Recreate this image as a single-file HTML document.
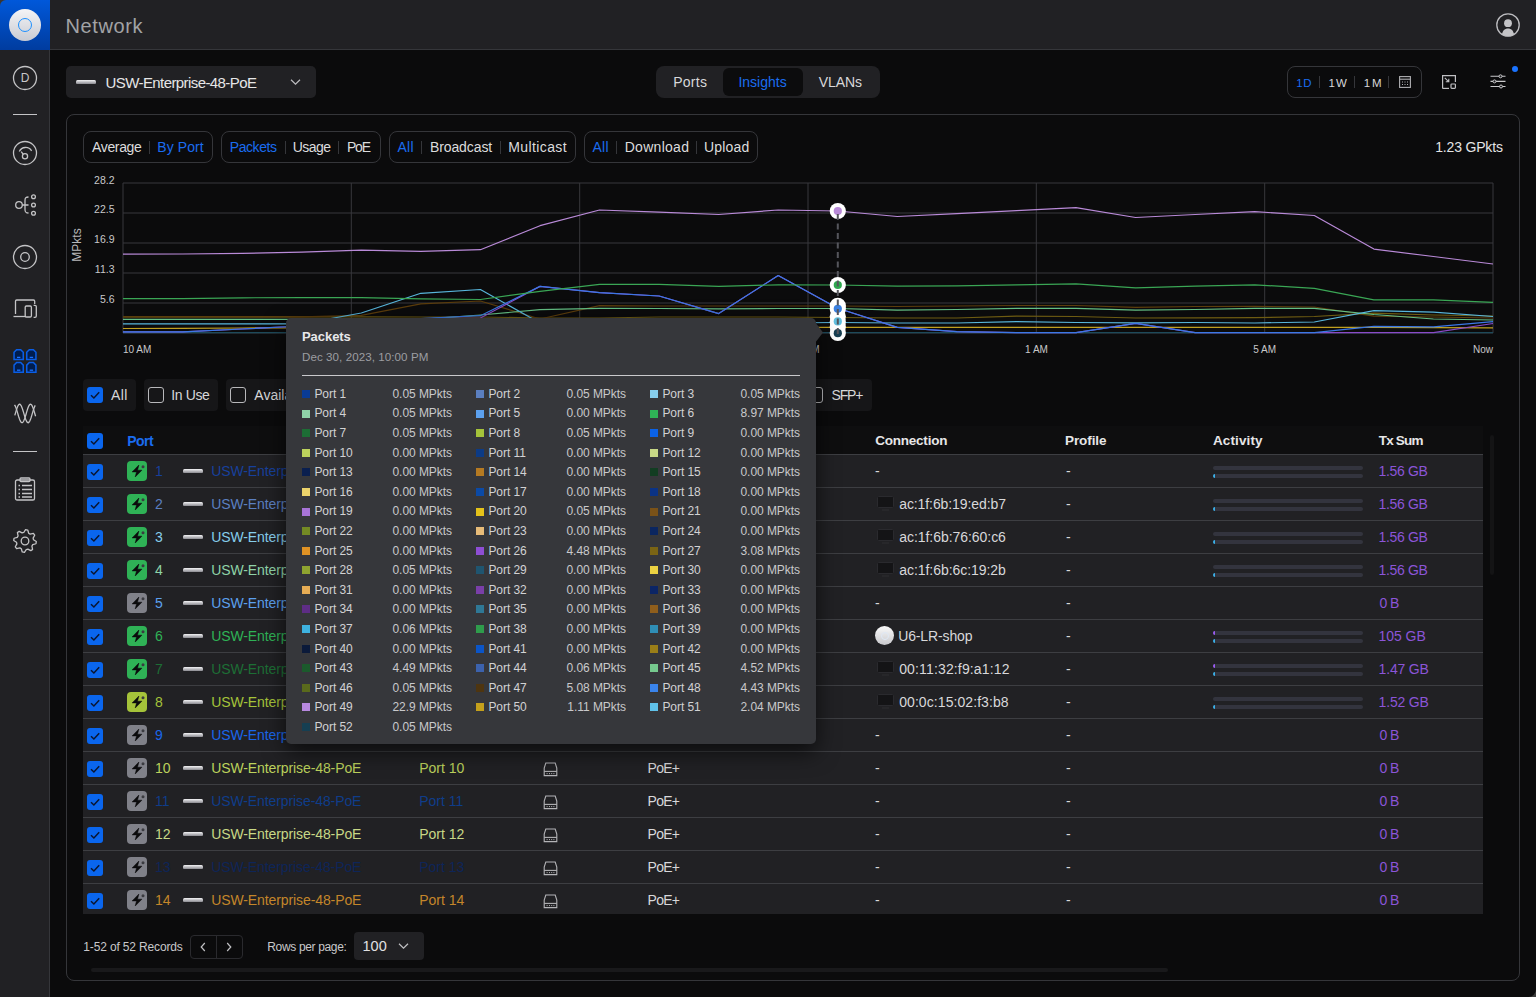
<!DOCTYPE html><html><head><meta charset="utf-8"><style>
html,body{margin:0;padding:0;}
body{width:1536px;height:997px;overflow:hidden;position:relative;background:#0b0b0c;font-family:"Liberation Sans", sans-serif;}
.t{position:absolute;white-space:nowrap;}
svg{overflow:visible}
</style></head><body>
<div style="position:absolute;left:0px;top:0px;width:1536px;height:49px;background:#212124;"></div>
<div style="position:absolute;left:0px;top:49px;width:1536px;height:1px;background:#35363a;"></div>
<div style="position:absolute;left:0px;top:50px;width:49px;height:947px;background:#212124;"></div>
<div style="position:absolute;left:49px;top:0px;width:1px;height:997px;background:#35363a;"></div>
<div style="position:absolute;left:0px;top:0px;width:8px;height:8px;background:#3a3631;"></div>
<div style="position:absolute;left:0px;top:0px;width:50px;height:50px;background:linear-gradient(180deg,#0058da 0%,#003c9f 100%);border-top-left-radius:6px;"></div>
<div style="position:absolute;left:9px;top:9px;width:32px;height:32px;border-radius:50%;background:linear-gradient(180deg,#f4f4f6,#c9cbd3);"></div>
<div style="position:absolute;left:18px;top:18px;width:14px;height:14px;border-radius:50%;box-sizing:border-box;border:1.6px solid #1e90ff;"></div>
<div class="t" style="left:65.50px;top:16.07px;font-size:20px;line-height:20px;color:#a2a3a6;letter-spacing:0.608px;">Network</div>
<svg style="position:absolute;left:1496px;top:13px;" width="24" height="24" viewBox="0 0 24 24"><circle cx="12" cy="12" r="11.2" fill="none" stroke="#bdbdc0" stroke-width="1.3"/><circle cx="12" cy="10.2" r="3.9" fill="#c4c4c7"/><path d="M6 21.3 C6.5 17.5 9 15.4 12 15.4 C15 15.4 17.5 17.5 18 21.3 C16.5 22.6 14.3 23.3 12 23.3 C9.7 23.3 7.5 22.6 6 21.3 Z" fill="#c4c4c7"/></svg>
<svg style="position:absolute;left:13px;top:66px;" width="24" height="24" viewBox="0 0 24 24"><circle cx="12" cy="12" r="11.5" stroke-width="1.3" fill="none" stroke="#c4c4c6"/></svg>
<div class="t" style="left:-275px;width:600px;text-align:center;top:72.14px;font-size:12px;line-height:12px;color:#c8c8ca;">D</div>
<div style="position:absolute;left:13px;top:114px;width:24px;height:1px;background:#c4c4c6;"></div>
<svg style="position:absolute;left:13px;top:141px;" width="24" height="24" viewBox="0 0 24 24"><circle cx="12" cy="12" r="11.5" stroke-width="1.3" fill="none" stroke="#c4c4c6"/><path d="M6.3 10.5 A7 7 0 0 1 18.6 9.8" stroke-width="1.3" fill="none" stroke="#c4c4c6"/><circle cx="12" cy="15.3" r="2.6" stroke-width="1.3" fill="none" stroke="#c4c4c6"/><path d="M10.3 13.4 L8.2 10.6" stroke-width="1.3" fill="none" stroke="#c4c4c6"/></svg>
<svg style="position:absolute;left:13px;top:193px;" width="24" height="24" viewBox="0 0 24 24"><circle cx="6" cy="12" r="3.3" stroke-width="1.3" fill="none" stroke="#c4c4c6"/><path d="M9.3 12 H15.5 M15.5 4 C12.5 4 12 5 12 7.5 V16.5 C12 19 12.5 20 15.5 20" stroke-width="1.3" fill="none" stroke="#c4c4c6"/><circle cx="20.5" cy="3.8" r="1.9" stroke-width="1.3" fill="none" stroke="#c4c4c6"/><circle cx="20.5" cy="12" r="1.9" stroke-width="1.3" fill="none" stroke="#c4c4c6"/><circle cx="20.5" cy="20.2" r="1.9" stroke-width="1.3" fill="none" stroke="#c4c4c6"/></svg>
<svg style="position:absolute;left:13px;top:245px;" width="24" height="24" viewBox="0 0 24 24"><circle cx="12" cy="12" r="11.5" stroke-width="1.3" fill="none" stroke="#c4c4c6"/><circle cx="12" cy="12" r="4.3" stroke-width="1.3" fill="none" stroke="#c4c4c6"/></svg>
<svg style="position:absolute;left:13px;top:297px;" width="24" height="24" viewBox="0 0 24 24"><path d="M2.5 17 V4.2 Q2.5 3 3.7 3 H20.5 Q21.7 3 21.7 4.2 V7" stroke-width="1.3" fill="none" stroke="#c4c4c6"/><path d="M0.5 19.5 H13" stroke-width="1.3" fill="none" stroke="#c4c4c6"/><rect x="12.2" y="9" width="6.2" height="11" rx="1.2" stroke-width="1.3" fill="none" stroke="#c4c4c6"/><path d="M20.6 8.3 H22 Q23.3 8.3 23.3 9.6 V19 Q23.3 20.3 22 20.3 H20.6" stroke-width="1.3" fill="none" stroke="#c4c4c6"/></svg>
<svg style="position:absolute;left:13px;top:349px;" width="24" height="24" viewBox="0 0 24 24"><path d="M1.05 3.3 L3.5999999999999996 0.75 H7.7 L10.25 3.3 V10.55 H1.05 Z" fill="#001d4f" stroke="#0a5ee6" stroke-width="1.5" stroke-linejoin="miter"/><path d="M4.0 8.4 H7.3999999999999995" stroke="#1a72ff" stroke-width="1.3"/><path d="M13.75 3.3 L16.3 0.75 H20.4 L22.95 3.3 V10.55 H13.75 Z" fill="#001d4f" stroke="#0a5ee6" stroke-width="1.5" stroke-linejoin="miter"/><path d="M16.7 8.4 H20.1" stroke="#1a72ff" stroke-width="1.3"/><path d="M1.05 16.1 L3.5999999999999996 13.55 H7.7 L10.25 16.1 V23.35 H1.05 Z" fill="#001d4f" stroke="#0a5ee6" stroke-width="1.5" stroke-linejoin="miter"/><path d="M4.0 21.200000000000003 H7.3999999999999995" stroke="#1a72ff" stroke-width="1.3"/><path d="M13.75 16.1 L16.3 13.55 H20.4 L22.95 16.1 V23.35 H13.75 Z" fill="#001d4f" stroke="#0a5ee6" stroke-width="1.5" stroke-linejoin="miter"/><path d="M16.7 21.200000000000003 H20.1" stroke="#1a72ff" stroke-width="1.3"/></svg>
<svg style="position:absolute;left:13px;top:401px;" width="24" height="24" viewBox="0 0 24 24"><path d="M1.50 3.82 L2.03 4.64 L2.56 5.74 L3.08 7.10 L3.61 8.67 L4.14 10.37 L4.67 12.16 L5.19 13.96 L5.72 15.70 L6.25 17.31 L6.78 18.74 L7.30 19.94 L7.83 20.85 L8.36 21.44 L8.89 21.69 L9.41 21.59 L9.94 21.15 L10.47 20.37 L11.00 19.30 L11.52 17.96 L12.05 16.42 L12.58 14.73 L13.11 12.95 L13.63 11.15 L14.16 9.40 L14.69 7.76 L15.21 6.31 L15.74 5.08 L16.27 4.14 L16.80 3.51 L17.32 3.22 L17.85 3.28 L18.38 3.68 L18.91 4.42 L19.44 5.47 L19.96 6.77 L20.49 8.30 L21.02 9.98 L21.55 11.75 L22.07 13.55 L22.60 15.31" stroke-width="1.3" fill="none" stroke="#c4c4c6"/><path d="M1.80 14.32 L2.31 12.59 L2.82 10.85 L3.33 9.17 L3.84 7.61 L4.35 6.22 L4.86 5.05 L5.37 4.14 L5.88 3.53 L6.39 3.23 L6.90 3.26 L7.41 3.61 L7.92 4.28 L8.43 5.24 L8.94 6.45 L9.45 7.87 L9.96 9.46 L10.47 11.16 L10.98 12.89 L11.49 14.62 L12.00 16.26 L12.51 17.78 L13.02 19.10 L13.53 20.19 L14.04 21.00 L14.55 21.51 L15.06 21.70 L15.57 21.56 L16.08 21.10 L16.59 20.33 L17.10 19.29 L17.61 18.00 L18.12 16.51 L18.63 14.88 L19.14 13.17 L19.65 11.43 L20.16 9.72 L20.67 8.11 L21.18 6.66 L21.69 5.41 L22.20 4.41" stroke-width="1.3" fill="none" stroke="#c4c4c6"/></svg>
<div style="position:absolute;left:13px;top:451px;width:24px;height:1px;background:#c4c4c6;"></div>
<svg style="position:absolute;left:13px;top:477px;" width="24" height="24" viewBox="0 0 24 24"><rect x="2.5" y="3" width="19" height="20" rx="1.6" stroke-width="1.3" fill="none" stroke="#c4c4c6"/><rect x="7" y="1" width="10" height="3.6" rx="1" stroke-width="1.3" fill="none" stroke="#c4c4c6"/><path d="M5.5 8.5 H7 M9 8.5 H19 M5.5 12.5 H7 M9 12.5 H19 M5.5 16.5 H7 M9 16.5 H19 M5.5 20 H7 M9 20 H19" stroke="#c4c4c6" stroke-width="1.4"/></svg>
<svg style="position:absolute;left:13px;top:529px;" width="24" height="24" viewBox="0 0 24 24"><path d="M12.55 0.71 L14.75 1.04 L15.68 4.23 L17.12 5.09 L20.37 4.41 L21.69 6.19 L20.10 9.10 L20.51 10.74 L23.29 12.55 L22.96 14.75 L19.77 15.68 L18.91 17.12 L19.59 20.37 L17.81 21.69 L14.90 20.10 L13.26 20.51 L11.45 23.29 L9.25 22.96 L8.32 19.77 L6.88 18.91 L3.63 19.59 L2.31 17.81 L3.90 14.90 L3.49 13.26 L0.71 11.45 L1.04 9.25 L4.23 8.32 L5.09 6.88 L4.41 3.63 L6.19 2.31 L9.10 3.90 L10.74 3.49Z" stroke-width="1.3" fill="none" stroke="#c4c4c6" stroke-linejoin="round"/><circle cx="12" cy="12" r="3.8" stroke-width="1.3" fill="none" stroke="#c4c4c6"/></svg>
<div style="position:absolute;left:66px;top:66px;width:250px;height:32px;background:#212124;border-radius:5px;"></div>
<div style="position:absolute;left:76px;top:80px;width:20px;height:4px;background:linear-gradient(180deg,#f4f4f6 0%,#c8c8cc 40%,#8a8a90 100%);border-radius:1.5px 1.5px 1px 1px;"></div>
<div class="t" style="left:105.60px;top:75.40px;font-size:15px;line-height:15px;color:#e6e6e7;letter-spacing:-0.590px;">USW-Enterprise-48-PoE</div>
<svg style="position:absolute;left:290px;top:79px;" width="11" height="6" viewBox="0 0 11 6"><path d="M1 0.8 L5.5 5.2 L10 0.8" fill="none" stroke="#bdbdc0" stroke-width="1.2"/></svg>
<div style="position:absolute;left:656px;top:66px;width:224px;height:32px;background:#212124;border-radius:8px;"></div>
<div style="position:absolute;left:723px;top:68px;width:80px;height:28px;background:#0c0c0d;border-radius:6px;"></div>
<div class="t" style="left:673.20px;top:75.15px;font-size:14px;line-height:14px;color:#d8d8da;letter-spacing:0.281px;">Ports</div>
<div class="t" style="left:738.40px;top:75.15px;font-size:14px;line-height:14px;color:#1a6cf0;letter-spacing:0.007px;">Insights</div>
<div class="t" style="left:818.75px;top:75.15px;font-size:14px;line-height:14px;color:#d8d8da;letter-spacing:-0.081px;">VLANs</div>
<div style="position:absolute;left:1287px;top:66px;width:135px;height:32px;box-sizing:border-box;border:1px solid #35363a;border-radius:8px;"></div>
<div class="t" style="left:1296.30px;top:78.07px;font-size:11.5px;line-height:11.5px;color:#1a6cf0;letter-spacing:0.504px;">1D</div>
<div class="t" style="left:1328.50px;top:78.07px;font-size:11.5px;line-height:11.5px;color:#d8d8da;letter-spacing:1.104px;">1W</div>
<div class="t" style="left:1363.80px;top:78.07px;font-size:11.5px;line-height:11.5px;color:#d8d8da;letter-spacing:1.804px;">1M</div>
<div style="position:absolute;left:1319px;top:76px;width:1px;height:12px;background:#35363a;"></div>
<div style="position:absolute;left:1354px;top:76px;width:1px;height:12px;background:#35363a;"></div>
<div style="position:absolute;left:1388px;top:76px;width:1px;height:12px;background:#35363a;"></div>
<svg style="position:absolute;left:1399px;top:76px;" width="12" height="12" viewBox="0 0 12 12"><rect x="0.6" y="0.6" width="10.8" height="10.8" fill="none" stroke="#b0b0b3" stroke-width="1.1"/><path d="M0.6 3.2 H11.4" stroke="#b0b0b3" stroke-width="1.1"/><path d="M3 6 H4 M5.5 6 H6.5 M8 6 H9 M3 8.5 H4 M5.5 8.5 H6.5 M8 8.5 H9" stroke="#b0b0b3" stroke-width="1"/></svg>
<svg style="position:absolute;left:1442px;top:75px;" width="14" height="14" viewBox="0 0 14 14"><path d="M0.6 13.4 V0.6 H13.4 V7" fill="none" stroke="#c0c0c3" stroke-width="1.2"/><path d="M0.6 13.4 H7" fill="none" stroke="#c0c0c3" stroke-width="1.2"/><rect x="9" y="9" width="4.4" height="4.4" rx="0.8" fill="none" stroke="#c0c0c3" stroke-width="1.2"/><path d="M2.8 2.8 L6.8 6.8 M6.8 3.8 V6.8 H3.8" fill="none" stroke="#c0c0c3" stroke-width="1.1"/></svg>
<svg style="position:absolute;left:1490px;top:74px;" width="16" height="14" viewBox="0 0 16 14"><path d="M0.5 2.3 H15.5 M0.5 7.4 H15.5 M0.5 12.5 H15.5" stroke="#c8c8ca" stroke-width="1.1"/><circle cx="10.5" cy="2.3" r="1.5" fill="#212124" stroke="#c8c8ca" stroke-width="1"/><circle cx="4.5" cy="7.4" r="1.5" fill="#212124" stroke="#c8c8ca" stroke-width="1"/><circle cx="11" cy="12.5" r="1.5" fill="#212124" stroke="#c8c8ca" stroke-width="1"/></svg>
<div style="position:absolute;left:1512px;top:66px;width:6px;height:6px;background:#1a73ff;border-radius:50%;"></div>
<div style="position:absolute;left:66px;top:114px;width:1454px;height:867px;box-sizing:border-box;border:1px solid #35363a;border-radius:8px;"></div>
<div style="position:absolute;left:83px;top:131px;width:130px;height:32px;box-sizing:border-box;border:1px solid #35363a;border-radius:8px;"></div>
<div class="t" style="left:92.00px;top:140.15px;font-size:14px;line-height:14px;color:#dcdcdd;letter-spacing:-0.351px;">Average</div>
<div style="position:absolute;left:149px;top:141px;width:1px;height:13px;background:#35363a;"></div>
<div class="t" style="left:157.30px;top:140.15px;font-size:14px;line-height:14px;color:#1a6cf0;letter-spacing:0.081px;">By Port</div>
<div style="position:absolute;left:221px;top:131px;width:160px;height:32px;box-sizing:border-box;border:1px solid #35363a;border-radius:8px;"></div>
<div class="t" style="left:229.80px;top:140.15px;font-size:14px;line-height:14px;color:#1a6cf0;letter-spacing:-0.433px;">Packets</div>
<div style="position:absolute;left:285px;top:141px;width:1px;height:13px;background:#35363a;"></div>
<div class="t" style="left:292.75px;top:140.15px;font-size:14px;line-height:14px;color:#dcdcdd;letter-spacing:-0.546px;">Usage</div>
<div style="position:absolute;left:338px;top:141px;width:1px;height:13px;background:#35363a;"></div>
<div class="t" style="left:346.90px;top:140.15px;font-size:14px;line-height:14px;color:#dcdcdd;letter-spacing:-1.112px;">PoE</div>
<div style="position:absolute;left:389px;top:131px;width:187px;height:32px;box-sizing:border-box;border:1px solid #35363a;border-radius:8px;"></div>
<div class="t" style="left:397.50px;top:140.15px;font-size:14px;line-height:14px;color:#1a6cf0;letter-spacing:0.276px;">All</div>
<div style="position:absolute;left:421px;top:141px;width:1px;height:13px;background:#35363a;"></div>
<div class="t" style="left:429.90px;top:140.15px;font-size:14px;line-height:14px;color:#dcdcdd;letter-spacing:-0.093px;">Broadcast</div>
<div style="position:absolute;left:500px;top:141px;width:1px;height:13px;background:#35363a;"></div>
<div class="t" style="left:508.30px;top:140.15px;font-size:14px;line-height:14px;color:#dcdcdd;letter-spacing:0.382px;">Multicast</div>
<div style="position:absolute;left:584px;top:131px;width:174px;height:32px;box-sizing:border-box;border:1px solid #35363a;border-radius:8px;"></div>
<div class="t" style="left:592.40px;top:140.15px;font-size:14px;line-height:14px;color:#1a6cf0;letter-spacing:0.276px;">All</div>
<div style="position:absolute;left:616px;top:141px;width:1px;height:13px;background:#35363a;"></div>
<div class="t" style="left:624.70px;top:140.15px;font-size:14px;line-height:14px;color:#dcdcdd;letter-spacing:0.289px;">Download</div>
<div style="position:absolute;left:696px;top:141px;width:1px;height:13px;background:#35363a;"></div>
<div class="t" style="left:704.00px;top:140.15px;font-size:14px;line-height:14px;color:#dcdcdd;letter-spacing:0.184px;">Upload</div>
<div class="t" style="left:1435.20px;top:140.15px;font-size:14px;line-height:14px;color:#e4e4e5;letter-spacing:-0.173px;">1.23 GPkts</div>
<svg style="position:absolute;left:0px;top:0px;" width="1536" height="400" viewBox="0 0 1536 400"><path d="M123 183 H1493" stroke="#2a2a2d" stroke-width="1.6"/><path d="M123 213 H1493" stroke="#2a2a2d" stroke-width="1.6"/><path d="M123 243 H1493" stroke="#2a2a2d" stroke-width="1.6"/><path d="M123 273 H1493" stroke="#2a2a2d" stroke-width="1.6"/><path d="M123 303 H1493" stroke="#2a2a2d" stroke-width="1.6"/><path d="M123 333 H1493" stroke="#2a2a2d" stroke-width="1.6"/><path d="M123 183 V333" stroke="#38383c" stroke-width="1"/><path d="M351.3 183 V333" stroke="#38383c" stroke-width="1"/><path d="M579.7 183 V333" stroke="#38383c" stroke-width="1"/><path d="M808 183 V333" stroke="#38383c" stroke-width="1"/><path d="M1036.3 183 V333" stroke="#38383c" stroke-width="1"/><path d="M1264.7 183 V333" stroke="#38383c" stroke-width="1"/><path d="M1493 183 V333" stroke="#38383c" stroke-width="1"/><path d="M123.0 332.7 L182.6 332.7 L242.1 332.7 L301.7 332.7 L361.3 332.7 L420.8 332.7 L480.4 332.7 L540.0 332.7 L599.5 332.7 L659.1 332.7 L718.7 332.7 L778.2 332.7 L837.8 332.7 L897.3 332.7 L956.9 332.7 L1016.5 332.7 L1076.0 332.7 L1135.6 332.7 L1195.2 332.7 L1254.7 332.7 L1314.3 332.7 L1373.9 332.7 L1433.4 332.7 L1493.0 332.7" fill="none" stroke="#1d4a5a" stroke-width="1.2" stroke-linejoin="round"/><path d="M123.0 328.5 L182.6 328.3 L242.1 328 L301.7 327.8 L361.3 327.6 L420.8 327.5 L480.4 327.4 L540.0 327.4 L599.5 327.4 L659.1 327.4 L718.7 327.4 L778.2 327.4 L837.8 327.4 L897.3 327.4 L956.9 327.4 L1016.5 327.4 L1076.0 327.4 L1135.6 327.4 L1195.2 327.4 L1254.7 327.4 L1314.3 327.4 L1373.9 327.4 L1433.4 327.6 L1493.0 327.8" fill="none" stroke="#c0a020" stroke-width="1.2" stroke-linejoin="round"/><path d="M123.0 316.8 L182.6 316.8 L242.1 316.8 L301.7 316.8 L361.3 316.8 L420.8 317 L480.4 317 L540.0 318 L599.5 318 L659.1 317 L718.7 317 L778.2 317 L837.8 317.5 L897.3 318 L956.9 318 L1016.5 316.1 L1076.0 316.5 L1135.6 318 L1195.2 317.8 L1254.7 317.7 L1314.3 316.5 L1373.9 313.2 L1433.4 315 L1493.0 316" fill="none" stroke="#6e5c12" stroke-width="1.2" stroke-linejoin="round"/><path d="M123.0 316.8 L182.6 316.8 L242.1 316.8 L301.7 316.8 L361.3 315.4 L420.8 303.8 L480.4 301 L540.0 319 L599.5 305.7 L659.1 306 L718.7 306 L778.2 306 L837.8 306 L897.3 306.5 L956.9 306 L1016.5 305.5 L1076.0 305.5 L1135.6 307.3 L1195.2 306.5 L1254.7 306.3 L1314.3 307 L1373.9 316.1 L1433.4 317 L1493.0 318" fill="none" stroke="#5c3d0c" stroke-width="1.2" stroke-linejoin="round"/><path d="M123.0 319.3 L182.6 319.3 L242.1 319.3 L301.7 319.3 L361.3 319.3 L420.8 319.3 L480.4 315 L540.0 309.6 L599.5 308.3 L659.1 308.5 L718.7 308.9 L778.2 308.5 L837.8 308.5 L897.3 310.2 L956.9 309.5 L1016.5 308.3 L1076.0 308.3 L1135.6 310.2 L1195.2 309.5 L1254.7 308.3 L1314.3 308.3 L1373.9 314.5 L1433.4 319 L1493.0 320" fill="none" stroke="#64bf84" stroke-width="1.2" stroke-linejoin="round"/><path d="M123.0 323.8 L182.6 323.8 L242.1 323.8 L301.7 323.8 L361.3 313 L420.8 293.3 L480.4 289.5 L540.0 323 L599.5 323 L659.1 323 L718.7 323 L778.2 323 L837.8 322.5 L897.3 323 L956.9 323 L1016.5 321.6 L1076.0 322.5 L1135.6 322.9 L1195.2 322.5 L1254.7 323 L1314.3 322 L1373.9 310.6 L1433.4 312.2 L1493.0 316.5" fill="none" stroke="#58b6dc" stroke-width="1.2" stroke-linejoin="round"/><path d="M123.0 331.8 L182.6 331.8 L242.1 329 L301.7 326 L361.3 322 L420.8 318.5 L480.4 318 L540.0 286.4 L599.5 292.7 L659.1 296 L718.7 313.6 L778.2 275.5 L837.8 308.3 L897.3 327.4 L956.9 331.7 L1016.5 332.7 L1076.0 332.7 L1135.6 323.3 L1195.2 332.7 L1254.7 332.7 L1314.3 332.7 L1373.9 332.7 L1433.4 332.7 L1493.0 323.5" fill="none" stroke="#8a4ac8" stroke-width="1.2" stroke-linejoin="round"/><path d="M123.0 331.8 L182.6 331.8 L242.1 329 L301.7 326 L361.3 322 L420.8 318.5 L480.4 315.7 L540.0 286.4 L599.5 292.7 L659.1 296 L718.7 313.6 L778.2 275.5 L837.8 308.3 L897.3 327.4 L956.9 331.7 L1016.5 332.7 L1076.0 332.7 L1135.6 323.3 L1195.2 332.7 L1254.7 332.7 L1314.3 332.7 L1373.9 326.4 L1433.4 326.8 L1493.0 321.6" fill="none" stroke="#3b78e6" stroke-width="1.2" stroke-linejoin="round"/><path d="M123.0 298.6 L182.6 298.6 L242.1 297.8 L301.7 297.6 L361.3 297.6 L420.8 298.9 L480.4 299.5 L540.0 291.3 L599.5 284.3 L659.1 284.3 L718.7 286.4 L778.2 284.8 L837.8 285.0 L897.3 286.2 L956.9 285.8 L1016.5 284.8 L1076.0 283.9 L1135.6 287.8 L1195.2 286.2 L1254.7 284.8 L1314.3 288.4 L1373.9 299.9 L1433.4 299.9 L1493.0 302.4" fill="none" stroke="#3aa655" stroke-width="1.2" stroke-linejoin="round"/><path d="M123.0 254.1 L182.6 254.0 L242.1 253.3 L301.7 252.2 L361.3 250.2 L420.8 251.3 L480.4 249.7 L540.0 225.7 L599.5 210.0 L659.1 212.2 L718.7 214.5 L778.2 210.0 L837.8 211.0 L897.3 216.5 L956.9 213.6 L1016.5 210.6 L1076.0 207.7 L1135.6 217.5 L1195.2 214.5 L1254.7 211.6 L1314.3 215.5 L1373.9 249.1 L1433.4 256.5 L1493.0 264.0" fill="none" stroke="#b98ad8" stroke-width="1.2" stroke-linejoin="round"/></svg>
<div class="t" style="left:-485.5px;width:600px;text-align:right;top:174.51px;font-size:10.5px;line-height:10.5px;color:#c8c8ca;">28.2</div>
<div class="t" style="left:-485.5px;width:600px;text-align:right;top:204.11px;font-size:10.5px;line-height:10.5px;color:#c8c8ca;">22.5</div>
<div class="t" style="left:-485.5px;width:600px;text-align:right;top:234.11px;font-size:10.5px;line-height:10.5px;color:#c8c8ca;">16.9</div>
<div class="t" style="left:-485.5px;width:600px;text-align:right;top:264.11px;font-size:10.5px;line-height:10.5px;color:#c8c8ca;">11.3</div>
<div class="t" style="left:-485.5px;width:600px;text-align:right;top:294.11px;font-size:10.5px;line-height:10.5px;color:#c8c8ca;">5.6</div>
<div class="t" style="left:52px;top:239px;width:50px;text-align:center;font-size:12px;line-height:12px;color:#b8b8ba;transform:rotate(-90deg);">MPkts</div>
<div class="t" style="left:123px;top:344.54px;font-size:10px;line-height:10px;color:#c8c8ca;">10 AM</div>
<div class="t" style="left:51.30000000000001px;width:600px;text-align:center;top:344.54px;font-size:10px;line-height:10px;color:#c8c8ca;">2 PM</div>
<div class="t" style="left:279.70000000000005px;width:600px;text-align:center;top:344.54px;font-size:10px;line-height:10px;color:#c8c8ca;">6 PM</div>
<div class="t" style="left:508px;width:600px;text-align:center;top:344.54px;font-size:10px;line-height:10px;color:#c8c8ca;">9 PM</div>
<div class="t" style="left:736.5px;width:600px;text-align:center;top:344.54px;font-size:10px;line-height:10px;color:#c8c8ca;">1 AM</div>
<div class="t" style="left:964.7px;width:600px;text-align:center;top:344.54px;font-size:10px;line-height:10px;color:#c8c8ca;">5 AM</div>
<div class="t" style="left:893px;width:600px;text-align:right;top:344.54px;font-size:10px;line-height:10px;color:#c8c8ca;">Now</div>
<svg style="position:absolute;left:0px;top:0px;" width="1536" height="400" viewBox="0 0 1536 400"><circle cx="837.8" cy="211" r="8.1" fill="#ffffff"/><circle cx="837.8" cy="285" r="8.1" fill="#ffffff"/><circle cx="837.8" cy="305.8" r="8.1" fill="#ffffff"/><circle cx="837.8" cy="309" r="8.1" fill="#ffffff"/><circle cx="837.8" cy="316.6" r="8.1" fill="#ffffff"/><circle cx="837.8" cy="322" r="8.1" fill="#ffffff"/><circle cx="837.8" cy="327.1" r="8.1" fill="#ffffff"/><circle cx="837.8" cy="333" r="8.1" fill="#ffffff"/><circle cx="837.8" cy="211" r="4.1" fill="#b98ad8"/><circle cx="837.8" cy="285" r="4.1" fill="#2ea84f"/><circle cx="837.8" cy="308.8" r="4.1" fill="#3a80e0"/><circle cx="837.8" cy="321.4" r="4.1" fill="#60c0e0"/><circle cx="837.8" cy="333.2" r="4.1" fill="#173f52"/><path d="M837.8 214 V334" stroke="#55565c" stroke-width="2" stroke-dasharray="6 3.5"/></svg>
<div style="position:absolute;left:83px;top:379px;width:53px;height:32px;background:#161618;border-radius:4px;"></div>
<div style="position:absolute;left:87px;top:387px;width:16px;height:16px;background:#0a66ee;border-radius:3px;"></div>
<svg style="position:absolute;left:87px;top:387px;" width="16" height="16" viewBox="0 0 16 16"><path d="M4 8.2 L6.9 11 L12.2 5.3" fill="none" stroke="#0b1630" stroke-width="1.5"/></svg>
<div class="t" style="left:110.90px;top:387.95px;font-size:14px;line-height:14px;color:#d8d8da;letter-spacing:0.426px;">All</div>
<div style="position:absolute;left:144px;top:379px;width:74px;height:32px;background:#161618;border-radius:4px;"></div>
<div style="position:absolute;left:148px;top:387px;width:16px;height:16px;box-sizing:border-box;border:1.3px solid #b8b8bb;border-radius:3px;"></div>
<div class="t" style="left:171.30px;top:387.95px;font-size:14px;line-height:14px;color:#d8d8da;letter-spacing:-0.395px;">In Use</div>
<div style="position:absolute;left:226px;top:379px;width:94px;height:32px;background:#161618;border-radius:4px;"></div>
<div style="position:absolute;left:230px;top:387px;width:16px;height:16px;box-sizing:border-box;border:1.3px solid #b8b8bb;border-radius:3px;"></div>
<div class="t" style="left:254.3px;top:387.95px;font-size:14px;line-height:14px;color:#d8d8da;">Available</div>
<div style="position:absolute;left:328px;top:379px;width:92px;height:32px;background:#161618;border-radius:4px;"></div>
<div style="position:absolute;left:332px;top:387px;width:16px;height:16px;box-sizing:border-box;border:1.3px solid #b8b8bb;border-radius:3px;"></div>
<div class="t" style="left:356px;top:387.95px;font-size:14px;line-height:14px;color:#d8d8da;">Uplinks</div>
<div style="position:absolute;left:428px;top:379px;width:92px;height:32px;background:#161618;border-radius:4px;"></div>
<div style="position:absolute;left:432px;top:387px;width:16px;height:16px;box-sizing:border-box;border:1.3px solid #b8b8bb;border-radius:3px;"></div>
<div class="t" style="left:456px;top:387.95px;font-size:14px;line-height:14px;color:#d8d8da;">Downlinks</div>
<div style="position:absolute;left:528px;top:379px;width:92px;height:32px;background:#161618;border-radius:4px;"></div>
<div style="position:absolute;left:532px;top:387px;width:16px;height:16px;box-sizing:border-box;border:1.3px solid #b8b8bb;border-radius:3px;"></div>
<div class="t" style="left:556px;top:387.95px;font-size:14px;line-height:14px;color:#d8d8da;">PoE</div>
<div style="position:absolute;left:628px;top:379px;width:92px;height:32px;background:#161618;border-radius:4px;"></div>
<div style="position:absolute;left:632px;top:387px;width:16px;height:16px;box-sizing:border-box;border:1.3px solid #b8b8bb;border-radius:3px;"></div>
<div class="t" style="left:656px;top:387.95px;font-size:14px;line-height:14px;color:#d8d8da;">Blocked</div>
<div style="position:absolute;left:728px;top:379px;width:70px;height:32px;background:#161618;border-radius:4px;"></div>
<div style="position:absolute;left:732px;top:387px;width:16px;height:16px;box-sizing:border-box;border:1.3px solid #b8b8bb;border-radius:3px;"></div>
<div class="t" style="left:756px;top:387.95px;font-size:14px;line-height:14px;color:#d8d8da;">RJ45</div>
<div style="position:absolute;left:803px;top:379px;width:69px;height:32px;background:#161618;border-radius:4px;"></div>
<div style="position:absolute;left:807px;top:387px;width:16px;height:16px;box-sizing:border-box;border:1.3px solid #b8b8bb;border-radius:3px;"></div>
<div class="t" style="left:831.60px;top:387.95px;font-size:14px;line-height:14px;color:#d8d8da;letter-spacing:-1.209px;">SFP+</div>
<div style="position:absolute;left:83px;top:426px;width:1400px;height:28px;background:#0e0e0f;"></div>
<div style="position:absolute;left:87px;top:433px;width:16px;height:16px;background:#0a66ee;border-radius:3px;"></div>
<svg style="position:absolute;left:87px;top:433px;" width="16" height="16" viewBox="0 0 16 16"><path d="M4 8.2 L6.9 11 L12.2 5.3" fill="none" stroke="#0b1630" stroke-width="1.5"/></svg>
<div class="t" style="left:127.20px;top:434.15px;font-size:14px;line-height:14px;color:#1a6cf0;font-weight:700;letter-spacing:-0.513px;">Port</div>
<div class="t" style="left:875.20px;top:434.37px;font-size:13.5px;line-height:13.5px;color:#e6e6e7;font-weight:700;letter-spacing:-0.222px;">Connection</div>
<div class="t" style="left:1065.00px;top:434.37px;font-size:13.5px;line-height:13.5px;color:#e6e6e7;font-weight:700;letter-spacing:-0.084px;">Profile</div>
<div class="t" style="left:1213.00px;top:434.37px;font-size:13.5px;line-height:13.5px;color:#e6e6e7;font-weight:700;letter-spacing:0.106px;">Activity</div>
<div class="t" style="left:1378.80px;top:434.37px;font-size:13.5px;line-height:13.5px;color:#e6e6e7;font-weight:700;letter-spacing:-0.831px;">Tx Sum</div>
<div class="t" style="left:419px;top:435.50px;font-size:13px;line-height:13px;color:#e6e6e7;font-weight:700;">Name</div>
<div class="t" style="left:543px;top:435.50px;font-size:13px;line-height:13px;color:#e6e6e7;font-weight:700;">Type</div>
<div class="t" style="left:647px;top:435.50px;font-size:13px;line-height:13px;color:#e6e6e7;font-weight:700;">PoE</div>
<div style="position:absolute;left:1490px;top:435px;width:4px;height:140px;background:#141415;border-radius:2px;"></div>
<div style="position:absolute;left:83px;top:454px;width:1400px;height:33px;background:#212124;"></div>
<div style="position:absolute;left:83px;top:454px;width:1400px;height:1px;background:#3d3e42;"></div>
<div style="position:absolute;left:87px;top:464px;width:16px;height:16px;background:#0a66ee;border-radius:3px;"></div>
<svg style="position:absolute;left:87px;top:464px;" width="16" height="16" viewBox="0 0 16 16"><path d="M4 8.2 L6.9 11 L12.2 5.3" fill="none" stroke="#0b1630" stroke-width="1.5"/></svg>
<div style="position:absolute;left:127px;top:461px;width:20px;height:20px;background:#2fb256;border-radius:4px;"></div>
<svg style="position:absolute;left:127px;top:461px;" width="20" height="20" viewBox="0 0 20 20"><path d="M11.9 4 L5.1 10.9 H9.5 L8.2 16 L14.9 9.2 H10.5 Z" fill="#0b0b0c" stroke="#0b0b0c" stroke-width="0.5" stroke-linejoin="round"/><circle cx="16" cy="5.7" r="1.5" fill="#3a3b40"/></svg>
<div class="t" style="left:155px;top:464.15px;font-size:14px;line-height:14px;color:#17409c;">1</div>
<div style="position:absolute;left:183px;top:469px;width:20px;height:4px;background:linear-gradient(180deg,#f4f4f6 0%,#c8c8cc 40%,#8a8a90 100%);border-radius:1.5px 1.5px 1px 1px;"></div>
<div class="t" style="left:211.2px;top:464.15px;font-size:14px;line-height:14px;color:#17409c;letter-spacing:-0.1px;">USW-Enterprise-48-PoE</div>
<div class="t" style="left:419.2px;top:464.15px;font-size:14px;line-height:14px;color:#17409c;">Port 1</div>
<svg style="position:absolute;left:543px;top:465px;" width="15" height="15" viewBox="0 0 15 15"><path d="M2.8 1 H12.2 L13.8 6 V13.6 H1.2 V6 Z" fill="none" stroke="#b4b4b7" stroke-width="1.1"/><path d="M1.2 9.4 H13.8" stroke="#b4b4b7" stroke-width="1.1"/><path d="M3.6 11.6 H4.6 M6 11.6 H7 M8.2 11.6 H9.2 M10.4 11.6 H11.4" stroke="#b4b4b7" stroke-width="1"/></svg>
<div class="t" style="left:647.5px;top:464.15px;font-size:14px;line-height:14px;color:#d8d8da;letter-spacing:-0.7px;">PoE+</div>
<div class="t" style="left:875px;top:464.15px;font-size:14px;line-height:14px;color:#d8d8da;">-</div>
<div class="t" style="left:1066px;top:464.15px;font-size:14px;line-height:14px;color:#d8d8da;">-</div>
<div style="position:absolute;left:1213px;top:466px;width:150px;height:4px;background:#33343e;border-radius:2px;"></div>
<div style="position:absolute;left:1213px;top:474px;width:150px;height:4px;background:#33343e;border-radius:2px;"></div>
<div style="position:absolute;left:1213px;top:474px;width:2px;height:4px;background:#3ab0e8;border-radius:2px 0 0 2px;"></div>
<div class="t" style="left:1378.60px;top:464.15px;font-size:14px;line-height:14px;color:#8b55d8;letter-spacing:-0.338px;">1.56 GB</div>
<div style="position:absolute;left:83px;top:487px;width:1400px;height:33px;background:#212124;"></div>
<div style="position:absolute;left:83px;top:487px;width:1400px;height:1px;background:#3d3e42;"></div>
<div style="position:absolute;left:87px;top:497px;width:16px;height:16px;background:#0a66ee;border-radius:3px;"></div>
<svg style="position:absolute;left:87px;top:497px;" width="16" height="16" viewBox="0 0 16 16"><path d="M4 8.2 L6.9 11 L12.2 5.3" fill="none" stroke="#0b1630" stroke-width="1.5"/></svg>
<div style="position:absolute;left:127px;top:494px;width:20px;height:20px;background:#2fb256;border-radius:4px;"></div>
<svg style="position:absolute;left:127px;top:494px;" width="20" height="20" viewBox="0 0 20 20"><path d="M11.9 4 L5.1 10.9 H9.5 L8.2 16 L14.9 9.2 H10.5 Z" fill="#0b0b0c" stroke="#0b0b0c" stroke-width="0.5" stroke-linejoin="round"/><circle cx="16" cy="5.7" r="1.5" fill="#3a3b40"/></svg>
<div class="t" style="left:155px;top:497.15px;font-size:14px;line-height:14px;color:#5b7fc0;">2</div>
<div style="position:absolute;left:183px;top:502px;width:20px;height:4px;background:linear-gradient(180deg,#f4f4f6 0%,#c8c8cc 40%,#8a8a90 100%);border-radius:1.5px 1.5px 1px 1px;"></div>
<div class="t" style="left:211.2px;top:497.15px;font-size:14px;line-height:14px;color:#5b7fc0;letter-spacing:-0.1px;">USW-Enterprise-48-PoE</div>
<div class="t" style="left:419.2px;top:497.15px;font-size:14px;line-height:14px;color:#5b7fc0;">Port 2</div>
<svg style="position:absolute;left:543px;top:498px;" width="15" height="15" viewBox="0 0 15 15"><path d="M2.8 1 H12.2 L13.8 6 V13.6 H1.2 V6 Z" fill="none" stroke="#b4b4b7" stroke-width="1.1"/><path d="M1.2 9.4 H13.8" stroke="#b4b4b7" stroke-width="1.1"/><path d="M3.6 11.6 H4.6 M6 11.6 H7 M8.2 11.6 H9.2 M10.4 11.6 H11.4" stroke="#b4b4b7" stroke-width="1"/></svg>
<div class="t" style="left:647.5px;top:497.15px;font-size:14px;line-height:14px;color:#d8d8da;letter-spacing:-0.7px;">PoE+</div>
<svg style="position:absolute;left:877px;top:496px;" width="17" height="15" viewBox="0 0 17 15"><rect x="0.5" y="0.5" width="16" height="11" rx="1" fill="#141416" stroke="#2a2a2e" stroke-width="1"/><path d="M5 14 H12" stroke="#2a2a2e" stroke-width="1.4"/></svg>
<div class="t" style="left:899.20px;top:497.15px;font-size:14px;line-height:14px;color:#d8d8da;letter-spacing:-0.088px;">ac:1f:6b:19:ed:b7</div>
<div class="t" style="left:1066px;top:497.15px;font-size:14px;line-height:14px;color:#d8d8da;">-</div>
<div style="position:absolute;left:1213px;top:499px;width:150px;height:4px;background:#33343e;border-radius:2px;"></div>
<div style="position:absolute;left:1213px;top:507px;width:150px;height:4px;background:#33343e;border-radius:2px;"></div>
<div style="position:absolute;left:1213px;top:507px;width:2px;height:4px;background:#3ab0e8;border-radius:2px 0 0 2px;"></div>
<div class="t" style="left:1378.60px;top:497.15px;font-size:14px;line-height:14px;color:#8b55d8;letter-spacing:-0.338px;">1.56 GB</div>
<div style="position:absolute;left:83px;top:520px;width:1400px;height:33px;background:#212124;"></div>
<div style="position:absolute;left:83px;top:520px;width:1400px;height:1px;background:#3d3e42;"></div>
<div style="position:absolute;left:87px;top:530px;width:16px;height:16px;background:#0a66ee;border-radius:3px;"></div>
<svg style="position:absolute;left:87px;top:530px;" width="16" height="16" viewBox="0 0 16 16"><path d="M4 8.2 L6.9 11 L12.2 5.3" fill="none" stroke="#0b1630" stroke-width="1.5"/></svg>
<div style="position:absolute;left:127px;top:527px;width:20px;height:20px;background:#2fb256;border-radius:4px;"></div>
<svg style="position:absolute;left:127px;top:527px;" width="20" height="20" viewBox="0 0 20 20"><path d="M11.9 4 L5.1 10.9 H9.5 L8.2 16 L14.9 9.2 H10.5 Z" fill="#0b0b0c" stroke="#0b0b0c" stroke-width="0.5" stroke-linejoin="round"/><circle cx="16" cy="5.7" r="1.5" fill="#3a3b40"/></svg>
<div class="t" style="left:155px;top:530.15px;font-size:14px;line-height:14px;color:#86cdeb;">3</div>
<div style="position:absolute;left:183px;top:535px;width:20px;height:4px;background:linear-gradient(180deg,#f4f4f6 0%,#c8c8cc 40%,#8a8a90 100%);border-radius:1.5px 1.5px 1px 1px;"></div>
<div class="t" style="left:211.2px;top:530.15px;font-size:14px;line-height:14px;color:#86cdeb;letter-spacing:-0.1px;">USW-Enterprise-48-PoE</div>
<div class="t" style="left:419.2px;top:530.15px;font-size:14px;line-height:14px;color:#86cdeb;">Port 3</div>
<svg style="position:absolute;left:543px;top:531px;" width="15" height="15" viewBox="0 0 15 15"><path d="M2.8 1 H12.2 L13.8 6 V13.6 H1.2 V6 Z" fill="none" stroke="#b4b4b7" stroke-width="1.1"/><path d="M1.2 9.4 H13.8" stroke="#b4b4b7" stroke-width="1.1"/><path d="M3.6 11.6 H4.6 M6 11.6 H7 M8.2 11.6 H9.2 M10.4 11.6 H11.4" stroke="#b4b4b7" stroke-width="1"/></svg>
<div class="t" style="left:647.5px;top:530.15px;font-size:14px;line-height:14px;color:#d8d8da;letter-spacing:-0.7px;">PoE+</div>
<svg style="position:absolute;left:877px;top:529px;" width="17" height="15" viewBox="0 0 17 15"><rect x="0.5" y="0.5" width="16" height="11" rx="1" fill="#141416" stroke="#2a2a2e" stroke-width="1"/><path d="M5 14 H12" stroke="#2a2a2e" stroke-width="1.4"/></svg>
<div class="t" style="left:899.20px;top:530.15px;font-size:14px;line-height:14px;color:#d8d8da;letter-spacing:-0.045px;">ac:1f:6b:76:60:c6</div>
<div class="t" style="left:1066px;top:530.15px;font-size:14px;line-height:14px;color:#d8d8da;">-</div>
<div style="position:absolute;left:1213px;top:532px;width:150px;height:4px;background:#33343e;border-radius:2px;"></div>
<div style="position:absolute;left:1213px;top:540px;width:150px;height:4px;background:#33343e;border-radius:2px;"></div>
<div style="position:absolute;left:1213px;top:540px;width:2px;height:4px;background:#3ab0e8;border-radius:2px 0 0 2px;"></div>
<div class="t" style="left:1378.60px;top:530.15px;font-size:14px;line-height:14px;color:#8b55d8;letter-spacing:-0.338px;">1.56 GB</div>
<div style="position:absolute;left:83px;top:553px;width:1400px;height:33px;background:#212124;"></div>
<div style="position:absolute;left:83px;top:553px;width:1400px;height:1px;background:#3d3e42;"></div>
<div style="position:absolute;left:87px;top:563px;width:16px;height:16px;background:#0a66ee;border-radius:3px;"></div>
<svg style="position:absolute;left:87px;top:563px;" width="16" height="16" viewBox="0 0 16 16"><path d="M4 8.2 L6.9 11 L12.2 5.3" fill="none" stroke="#0b1630" stroke-width="1.5"/></svg>
<div style="position:absolute;left:127px;top:560px;width:20px;height:20px;background:#2fb256;border-radius:4px;"></div>
<svg style="position:absolute;left:127px;top:560px;" width="20" height="20" viewBox="0 0 20 20"><path d="M11.9 4 L5.1 10.9 H9.5 L8.2 16 L14.9 9.2 H10.5 Z" fill="#0b0b0c" stroke="#0b0b0c" stroke-width="0.5" stroke-linejoin="round"/><circle cx="16" cy="5.7" r="1.5" fill="#3a3b40"/></svg>
<div class="t" style="left:155px;top:563.15px;font-size:14px;line-height:14px;color:#8fd3a8;">4</div>
<div style="position:absolute;left:183px;top:568px;width:20px;height:4px;background:linear-gradient(180deg,#f4f4f6 0%,#c8c8cc 40%,#8a8a90 100%);border-radius:1.5px 1.5px 1px 1px;"></div>
<div class="t" style="left:211.2px;top:563.15px;font-size:14px;line-height:14px;color:#8fd3a8;letter-spacing:-0.1px;">USW-Enterprise-48-PoE</div>
<div class="t" style="left:419.2px;top:563.15px;font-size:14px;line-height:14px;color:#8fd3a8;">Port 4</div>
<svg style="position:absolute;left:543px;top:564px;" width="15" height="15" viewBox="0 0 15 15"><path d="M2.8 1 H12.2 L13.8 6 V13.6 H1.2 V6 Z" fill="none" stroke="#b4b4b7" stroke-width="1.1"/><path d="M1.2 9.4 H13.8" stroke="#b4b4b7" stroke-width="1.1"/><path d="M3.6 11.6 H4.6 M6 11.6 H7 M8.2 11.6 H9.2 M10.4 11.6 H11.4" stroke="#b4b4b7" stroke-width="1"/></svg>
<div class="t" style="left:647.5px;top:563.15px;font-size:14px;line-height:14px;color:#d8d8da;letter-spacing:-0.7px;">PoE+</div>
<svg style="position:absolute;left:877px;top:562px;" width="17" height="15" viewBox="0 0 17 15"><rect x="0.5" y="0.5" width="16" height="11" rx="1" fill="#141416" stroke="#2a2a2e" stroke-width="1"/><path d="M5 14 H12" stroke="#2a2a2e" stroke-width="1.4"/></svg>
<div class="t" style="left:899.20px;top:563.15px;font-size:14px;line-height:14px;color:#d8d8da;letter-spacing:-0.045px;">ac:1f:6b:6c:19:2b</div>
<div class="t" style="left:1066px;top:563.15px;font-size:14px;line-height:14px;color:#d8d8da;">-</div>
<div style="position:absolute;left:1213px;top:565px;width:150px;height:4px;background:#33343e;border-radius:2px;"></div>
<div style="position:absolute;left:1213px;top:573px;width:150px;height:4px;background:#33343e;border-radius:2px;"></div>
<div style="position:absolute;left:1213px;top:573px;width:2px;height:4px;background:#3ab0e8;border-radius:2px 0 0 2px;"></div>
<div class="t" style="left:1378.60px;top:563.15px;font-size:14px;line-height:14px;color:#8b55d8;letter-spacing:-0.338px;">1.56 GB</div>
<div style="position:absolute;left:83px;top:586px;width:1400px;height:33px;background:#212124;"></div>
<div style="position:absolute;left:83px;top:586px;width:1400px;height:1px;background:#3d3e42;"></div>
<div style="position:absolute;left:87px;top:596px;width:16px;height:16px;background:#0a66ee;border-radius:3px;"></div>
<svg style="position:absolute;left:87px;top:596px;" width="16" height="16" viewBox="0 0 16 16"><path d="M4 8.2 L6.9 11 L12.2 5.3" fill="none" stroke="#0b1630" stroke-width="1.5"/></svg>
<div style="position:absolute;left:127px;top:593px;width:20px;height:20px;background:#808189;border-radius:4px;"></div>
<svg style="position:absolute;left:127px;top:593px;" width="20" height="20" viewBox="0 0 20 20"><path d="M11.9 4 L5.1 10.9 H9.5 L8.2 16 L14.9 9.2 H10.5 Z" fill="#0b0b0c" stroke="#0b0b0c" stroke-width="0.5" stroke-linejoin="round"/><circle cx="16" cy="5.7" r="1.5" fill="#3a3b40"/></svg>
<div class="t" style="left:155px;top:596.15px;font-size:14px;line-height:14px;color:#5ca0ee;">5</div>
<div style="position:absolute;left:183px;top:601px;width:20px;height:4px;background:linear-gradient(180deg,#f4f4f6 0%,#c8c8cc 40%,#8a8a90 100%);border-radius:1.5px 1.5px 1px 1px;"></div>
<div class="t" style="left:211.2px;top:596.15px;font-size:14px;line-height:14px;color:#5ca0ee;letter-spacing:-0.1px;">USW-Enterprise-48-PoE</div>
<div class="t" style="left:419.2px;top:596.15px;font-size:14px;line-height:14px;color:#5ca0ee;">Port 5</div>
<svg style="position:absolute;left:543px;top:597px;" width="15" height="15" viewBox="0 0 15 15"><path d="M2.8 1 H12.2 L13.8 6 V13.6 H1.2 V6 Z" fill="none" stroke="#b4b4b7" stroke-width="1.1"/><path d="M1.2 9.4 H13.8" stroke="#b4b4b7" stroke-width="1.1"/><path d="M3.6 11.6 H4.6 M6 11.6 H7 M8.2 11.6 H9.2 M10.4 11.6 H11.4" stroke="#b4b4b7" stroke-width="1"/></svg>
<div class="t" style="left:647.5px;top:596.15px;font-size:14px;line-height:14px;color:#d8d8da;letter-spacing:-0.7px;">PoE+</div>
<div class="t" style="left:875px;top:596.15px;font-size:14px;line-height:14px;color:#d8d8da;">-</div>
<div class="t" style="left:1066px;top:596.15px;font-size:14px;line-height:14px;color:#d8d8da;">-</div>
<div class="t" style="left:1379.60px;top:596.15px;font-size:14px;line-height:14px;color:#8b55d8;letter-spacing:-0.688px;">0 B</div>
<div style="position:absolute;left:83px;top:619px;width:1400px;height:33px;background:#212124;"></div>
<div style="position:absolute;left:83px;top:619px;width:1400px;height:1px;background:#3d3e42;"></div>
<div style="position:absolute;left:87px;top:629px;width:16px;height:16px;background:#0a66ee;border-radius:3px;"></div>
<svg style="position:absolute;left:87px;top:629px;" width="16" height="16" viewBox="0 0 16 16"><path d="M4 8.2 L6.9 11 L12.2 5.3" fill="none" stroke="#0b1630" stroke-width="1.5"/></svg>
<div style="position:absolute;left:127px;top:626px;width:20px;height:20px;background:#2fb256;border-radius:4px;"></div>
<svg style="position:absolute;left:127px;top:626px;" width="20" height="20" viewBox="0 0 20 20"><path d="M11.9 4 L5.1 10.9 H9.5 L8.2 16 L14.9 9.2 H10.5 Z" fill="#0b0b0c" stroke="#0b0b0c" stroke-width="0.5" stroke-linejoin="round"/><circle cx="16" cy="5.7" r="1.5" fill="#3a3b40"/></svg>
<div class="t" style="left:155px;top:629.15px;font-size:14px;line-height:14px;color:#2fb256;">6</div>
<div style="position:absolute;left:183px;top:634px;width:20px;height:4px;background:linear-gradient(180deg,#f4f4f6 0%,#c8c8cc 40%,#8a8a90 100%);border-radius:1.5px 1.5px 1px 1px;"></div>
<div class="t" style="left:211.2px;top:629.15px;font-size:14px;line-height:14px;color:#2fb256;letter-spacing:-0.1px;">USW-Enterprise-48-PoE</div>
<div class="t" style="left:419.2px;top:629.15px;font-size:14px;line-height:14px;color:#2fb256;">Port 6</div>
<svg style="position:absolute;left:543px;top:630px;" width="15" height="15" viewBox="0 0 15 15"><path d="M2.8 1 H12.2 L13.8 6 V13.6 H1.2 V6 Z" fill="none" stroke="#b4b4b7" stroke-width="1.1"/><path d="M1.2 9.4 H13.8" stroke="#b4b4b7" stroke-width="1.1"/><path d="M3.6 11.6 H4.6 M6 11.6 H7 M8.2 11.6 H9.2 M10.4 11.6 H11.4" stroke="#b4b4b7" stroke-width="1"/></svg>
<div class="t" style="left:647.5px;top:629.15px;font-size:14px;line-height:14px;color:#d8d8da;letter-spacing:-0.7px;">PoE+</div>
<div style="position:absolute;left:875px;top:626px;width:19px;height:19px;border-radius:50%;background:linear-gradient(180deg,#fafafa,#c8c8cc);"></div>
<div style="position:absolute;left:880.5px;top:631.5px;width:8px;height:8px;border-radius:50%;box-sizing:border-box;border:1px solid #dfe8f5;"></div>
<div class="t" style="left:898.20px;top:629.15px;font-size:14px;line-height:14px;color:#d8d8da;letter-spacing:-0.132px;">U6-LR-shop</div>
<div class="t" style="left:1066px;top:629.15px;font-size:14px;line-height:14px;color:#d8d8da;">-</div>
<div style="position:absolute;left:1213px;top:631px;width:150px;height:4px;background:#33343e;border-radius:2px;"></div>
<div style="position:absolute;left:1213px;top:639px;width:150px;height:4px;background:#33343e;border-radius:2px;"></div>
<div style="position:absolute;left:1213px;top:631px;width:2px;height:4px;background:#9a5cf0;border-radius:2px 0 0 2px;"></div>
<div style="position:absolute;left:1213px;top:639px;width:2px;height:4px;background:#3ab0e8;border-radius:2px 0 0 2px;"></div>
<div class="t" style="left:1378.60px;top:629.15px;font-size:14px;line-height:14px;color:#8b55d8;letter-spacing:-0.068px;">105 GB</div>
<div style="position:absolute;left:83px;top:652px;width:1400px;height:33px;background:#212124;"></div>
<div style="position:absolute;left:83px;top:652px;width:1400px;height:1px;background:#3d3e42;"></div>
<div style="position:absolute;left:87px;top:662px;width:16px;height:16px;background:#0a66ee;border-radius:3px;"></div>
<svg style="position:absolute;left:87px;top:662px;" width="16" height="16" viewBox="0 0 16 16"><path d="M4 8.2 L6.9 11 L12.2 5.3" fill="none" stroke="#0b1630" stroke-width="1.5"/></svg>
<div style="position:absolute;left:127px;top:659px;width:20px;height:20px;background:#2fb256;border-radius:4px;"></div>
<svg style="position:absolute;left:127px;top:659px;" width="20" height="20" viewBox="0 0 20 20"><path d="M11.9 4 L5.1 10.9 H9.5 L8.2 16 L14.9 9.2 H10.5 Z" fill="#0b0b0c" stroke="#0b0b0c" stroke-width="0.5" stroke-linejoin="round"/><circle cx="16" cy="5.7" r="1.5" fill="#3a3b40"/></svg>
<div class="t" style="left:155px;top:662.15px;font-size:14px;line-height:14px;color:#1d6e35;">7</div>
<div style="position:absolute;left:183px;top:667px;width:20px;height:4px;background:linear-gradient(180deg,#f4f4f6 0%,#c8c8cc 40%,#8a8a90 100%);border-radius:1.5px 1.5px 1px 1px;"></div>
<div class="t" style="left:211.2px;top:662.15px;font-size:14px;line-height:14px;color:#1d6e35;letter-spacing:-0.1px;">USW-Enterprise-48-PoE</div>
<div class="t" style="left:419.2px;top:662.15px;font-size:14px;line-height:14px;color:#1d6e35;">Port 7</div>
<svg style="position:absolute;left:543px;top:663px;" width="15" height="15" viewBox="0 0 15 15"><path d="M2.8 1 H12.2 L13.8 6 V13.6 H1.2 V6 Z" fill="none" stroke="#b4b4b7" stroke-width="1.1"/><path d="M1.2 9.4 H13.8" stroke="#b4b4b7" stroke-width="1.1"/><path d="M3.6 11.6 H4.6 M6 11.6 H7 M8.2 11.6 H9.2 M10.4 11.6 H11.4" stroke="#b4b4b7" stroke-width="1"/></svg>
<div class="t" style="left:647.5px;top:662.15px;font-size:14px;line-height:14px;color:#d8d8da;letter-spacing:-0.7px;">PoE+</div>
<svg style="position:absolute;left:877px;top:661px;" width="17" height="15" viewBox="0 0 17 15"><rect x="0.5" y="0.5" width="16" height="11" rx="1" fill="#141416" stroke="#2a2a2e" stroke-width="1"/><path d="M5 14 H12" stroke="#2a2a2e" stroke-width="1.4"/></svg>
<div class="t" style="left:899.20px;top:662.15px;font-size:14px;line-height:14px;color:#d8d8da;letter-spacing:0.146px;">00:11:32:f9:a1:12</div>
<div class="t" style="left:1066px;top:662.15px;font-size:14px;line-height:14px;color:#d8d8da;">-</div>
<div style="position:absolute;left:1213px;top:664px;width:150px;height:4px;background:#33343e;border-radius:2px;"></div>
<div style="position:absolute;left:1213px;top:672px;width:150px;height:4px;background:#33343e;border-radius:2px;"></div>
<div style="position:absolute;left:1213px;top:664px;width:2px;height:4px;background:#9a5cf0;border-radius:2px 0 0 2px;"></div>
<div style="position:absolute;left:1213px;top:672px;width:2px;height:4px;background:#3ab0e8;border-radius:2px 0 0 2px;"></div>
<div class="t" style="left:1378.60px;top:662.15px;font-size:14px;line-height:14px;color:#8b55d8;letter-spacing:-0.188px;">1.47 GB</div>
<div style="position:absolute;left:83px;top:685px;width:1400px;height:33px;background:#212124;"></div>
<div style="position:absolute;left:83px;top:685px;width:1400px;height:1px;background:#3d3e42;"></div>
<div style="position:absolute;left:87px;top:695px;width:16px;height:16px;background:#0a66ee;border-radius:3px;"></div>
<svg style="position:absolute;left:87px;top:695px;" width="16" height="16" viewBox="0 0 16 16"><path d="M4 8.2 L6.9 11 L12.2 5.3" fill="none" stroke="#0b1630" stroke-width="1.5"/></svg>
<div style="position:absolute;left:127px;top:692px;width:20px;height:20px;background:#a5c33a;border-radius:4px;"></div>
<svg style="position:absolute;left:127px;top:692px;" width="20" height="20" viewBox="0 0 20 20"><path d="M11.9 4 L5.1 10.9 H9.5 L8.2 16 L14.9 9.2 H10.5 Z" fill="#0b0b0c" stroke="#0b0b0c" stroke-width="0.5" stroke-linejoin="round"/><circle cx="16" cy="5.7" r="1.5" fill="#3a3b40"/></svg>
<div class="t" style="left:155px;top:695.15px;font-size:14px;line-height:14px;color:#a5c33a;">8</div>
<div style="position:absolute;left:183px;top:700px;width:20px;height:4px;background:linear-gradient(180deg,#f4f4f6 0%,#c8c8cc 40%,#8a8a90 100%);border-radius:1.5px 1.5px 1px 1px;"></div>
<div class="t" style="left:211.2px;top:695.15px;font-size:14px;line-height:14px;color:#a5c33a;letter-spacing:-0.1px;">USW-Enterprise-48-PoE</div>
<div class="t" style="left:419.2px;top:695.15px;font-size:14px;line-height:14px;color:#a5c33a;">Port 8</div>
<svg style="position:absolute;left:543px;top:696px;" width="15" height="15" viewBox="0 0 15 15"><path d="M2.8 1 H12.2 L13.8 6 V13.6 H1.2 V6 Z" fill="none" stroke="#b4b4b7" stroke-width="1.1"/><path d="M1.2 9.4 H13.8" stroke="#b4b4b7" stroke-width="1.1"/><path d="M3.6 11.6 H4.6 M6 11.6 H7 M8.2 11.6 H9.2 M10.4 11.6 H11.4" stroke="#b4b4b7" stroke-width="1"/></svg>
<div class="t" style="left:647.5px;top:695.15px;font-size:14px;line-height:14px;color:#d8d8da;letter-spacing:-0.7px;">PoE+</div>
<svg style="position:absolute;left:877px;top:694px;" width="17" height="15" viewBox="0 0 17 15"><rect x="0.5" y="0.5" width="16" height="11" rx="1" fill="#141416" stroke="#2a2a2e" stroke-width="1"/><path d="M5 14 H12" stroke="#2a2a2e" stroke-width="1.4"/></svg>
<div class="t" style="left:899.20px;top:695.15px;font-size:14px;line-height:14px;color:#d8d8da;letter-spacing:0.074px;">00:0c:15:02:f3:b8</div>
<div class="t" style="left:1066px;top:695.15px;font-size:14px;line-height:14px;color:#d8d8da;">-</div>
<div style="position:absolute;left:1213px;top:697px;width:150px;height:4px;background:#33343e;border-radius:2px;"></div>
<div style="position:absolute;left:1213px;top:705px;width:150px;height:4px;background:#33343e;border-radius:2px;"></div>
<div style="position:absolute;left:1213px;top:705px;width:2px;height:4px;background:#3ab0e8;border-radius:2px 0 0 2px;"></div>
<div class="t" style="left:1378.60px;top:695.15px;font-size:14px;line-height:14px;color:#8b55d8;letter-spacing:-0.188px;">1.52 GB</div>
<div style="position:absolute;left:83px;top:718px;width:1400px;height:33px;background:#212124;"></div>
<div style="position:absolute;left:83px;top:718px;width:1400px;height:1px;background:#3d3e42;"></div>
<div style="position:absolute;left:87px;top:728px;width:16px;height:16px;background:#0a66ee;border-radius:3px;"></div>
<svg style="position:absolute;left:87px;top:728px;" width="16" height="16" viewBox="0 0 16 16"><path d="M4 8.2 L6.9 11 L12.2 5.3" fill="none" stroke="#0b1630" stroke-width="1.5"/></svg>
<div style="position:absolute;left:127px;top:725px;width:20px;height:20px;background:#808189;border-radius:4px;"></div>
<svg style="position:absolute;left:127px;top:725px;" width="20" height="20" viewBox="0 0 20 20"><path d="M11.9 4 L5.1 10.9 H9.5 L8.2 16 L14.9 9.2 H10.5 Z" fill="#0b0b0c" stroke="#0b0b0c" stroke-width="0.5" stroke-linejoin="round"/><circle cx="16" cy="5.7" r="1.5" fill="#3a3b40"/></svg>
<div class="t" style="left:155px;top:728.15px;font-size:14px;line-height:14px;color:#1a66ea;">9</div>
<div style="position:absolute;left:183px;top:733px;width:20px;height:4px;background:linear-gradient(180deg,#f4f4f6 0%,#c8c8cc 40%,#8a8a90 100%);border-radius:1.5px 1.5px 1px 1px;"></div>
<div class="t" style="left:211.2px;top:728.15px;font-size:14px;line-height:14px;color:#1a66ea;letter-spacing:-0.1px;">USW-Enterprise-48-PoE</div>
<div class="t" style="left:419.2px;top:728.15px;font-size:14px;line-height:14px;color:#1a66ea;">Port 9</div>
<svg style="position:absolute;left:543px;top:729px;" width="15" height="15" viewBox="0 0 15 15"><path d="M2.8 1 H12.2 L13.8 6 V13.6 H1.2 V6 Z" fill="none" stroke="#b4b4b7" stroke-width="1.1"/><path d="M1.2 9.4 H13.8" stroke="#b4b4b7" stroke-width="1.1"/><path d="M3.6 11.6 H4.6 M6 11.6 H7 M8.2 11.6 H9.2 M10.4 11.6 H11.4" stroke="#b4b4b7" stroke-width="1"/></svg>
<div class="t" style="left:647.5px;top:728.15px;font-size:14px;line-height:14px;color:#d8d8da;letter-spacing:-0.7px;">PoE+</div>
<div class="t" style="left:875px;top:728.15px;font-size:14px;line-height:14px;color:#d8d8da;">-</div>
<div class="t" style="left:1066px;top:728.15px;font-size:14px;line-height:14px;color:#d8d8da;">-</div>
<div class="t" style="left:1379.60px;top:728.15px;font-size:14px;line-height:14px;color:#8b55d8;letter-spacing:-0.688px;">0 B</div>
<div style="position:absolute;left:83px;top:751px;width:1400px;height:33px;background:#212124;"></div>
<div style="position:absolute;left:83px;top:751px;width:1400px;height:1px;background:#3d3e42;"></div>
<div style="position:absolute;left:87px;top:761px;width:16px;height:16px;background:#0a66ee;border-radius:3px;"></div>
<svg style="position:absolute;left:87px;top:761px;" width="16" height="16" viewBox="0 0 16 16"><path d="M4 8.2 L6.9 11 L12.2 5.3" fill="none" stroke="#0b1630" stroke-width="1.5"/></svg>
<div style="position:absolute;left:127px;top:758px;width:20px;height:20px;background:#808189;border-radius:4px;"></div>
<svg style="position:absolute;left:127px;top:758px;" width="20" height="20" viewBox="0 0 20 20"><path d="M11.9 4 L5.1 10.9 H9.5 L8.2 16 L14.9 9.2 H10.5 Z" fill="#0b0b0c" stroke="#0b0b0c" stroke-width="0.5" stroke-linejoin="round"/><circle cx="16" cy="5.7" r="1.5" fill="#3a3b40"/></svg>
<div class="t" style="left:155px;top:761.15px;font-size:14px;line-height:14px;color:#bcd25c;">10</div>
<div style="position:absolute;left:183px;top:766px;width:20px;height:4px;background:linear-gradient(180deg,#f4f4f6 0%,#c8c8cc 40%,#8a8a90 100%);border-radius:1.5px 1.5px 1px 1px;"></div>
<div class="t" style="left:211.2px;top:761.15px;font-size:14px;line-height:14px;color:#bcd25c;letter-spacing:-0.1px;">USW-Enterprise-48-PoE</div>
<div class="t" style="left:419.2px;top:761.15px;font-size:14px;line-height:14px;color:#bcd25c;">Port 10</div>
<svg style="position:absolute;left:543px;top:762px;" width="15" height="15" viewBox="0 0 15 15"><path d="M2.8 1 H12.2 L13.8 6 V13.6 H1.2 V6 Z" fill="none" stroke="#b4b4b7" stroke-width="1.1"/><path d="M1.2 9.4 H13.8" stroke="#b4b4b7" stroke-width="1.1"/><path d="M3.6 11.6 H4.6 M6 11.6 H7 M8.2 11.6 H9.2 M10.4 11.6 H11.4" stroke="#b4b4b7" stroke-width="1"/></svg>
<div class="t" style="left:647.5px;top:761.15px;font-size:14px;line-height:14px;color:#d8d8da;letter-spacing:-0.7px;">PoE+</div>
<div class="t" style="left:875px;top:761.15px;font-size:14px;line-height:14px;color:#d8d8da;">-</div>
<div class="t" style="left:1066px;top:761.15px;font-size:14px;line-height:14px;color:#d8d8da;">-</div>
<div class="t" style="left:1379.60px;top:761.15px;font-size:14px;line-height:14px;color:#8b55d8;letter-spacing:-0.688px;">0 B</div>
<div style="position:absolute;left:83px;top:784px;width:1400px;height:33px;background:#212124;"></div>
<div style="position:absolute;left:83px;top:784px;width:1400px;height:1px;background:#3d3e42;"></div>
<div style="position:absolute;left:87px;top:794px;width:16px;height:16px;background:#0a66ee;border-radius:3px;"></div>
<svg style="position:absolute;left:87px;top:794px;" width="16" height="16" viewBox="0 0 16 16"><path d="M4 8.2 L6.9 11 L12.2 5.3" fill="none" stroke="#0b1630" stroke-width="1.5"/></svg>
<div style="position:absolute;left:127px;top:791px;width:20px;height:20px;background:#808189;border-radius:4px;"></div>
<svg style="position:absolute;left:127px;top:791px;" width="20" height="20" viewBox="0 0 20 20"><path d="M11.9 4 L5.1 10.9 H9.5 L8.2 16 L14.9 9.2 H10.5 Z" fill="#0b0b0c" stroke="#0b0b0c" stroke-width="0.5" stroke-linejoin="round"/><circle cx="16" cy="5.7" r="1.5" fill="#3a3b40"/></svg>
<div class="t" style="left:155px;top:794.15px;font-size:14px;line-height:14px;color:#0f3d8a;">11</div>
<div style="position:absolute;left:183px;top:799px;width:20px;height:4px;background:linear-gradient(180deg,#f4f4f6 0%,#c8c8cc 40%,#8a8a90 100%);border-radius:1.5px 1.5px 1px 1px;"></div>
<div class="t" style="left:211.2px;top:794.15px;font-size:14px;line-height:14px;color:#0f3d8a;letter-spacing:-0.1px;">USW-Enterprise-48-PoE</div>
<div class="t" style="left:419.2px;top:794.15px;font-size:14px;line-height:14px;color:#0f3d8a;">Port 11</div>
<svg style="position:absolute;left:543px;top:795px;" width="15" height="15" viewBox="0 0 15 15"><path d="M2.8 1 H12.2 L13.8 6 V13.6 H1.2 V6 Z" fill="none" stroke="#b4b4b7" stroke-width="1.1"/><path d="M1.2 9.4 H13.8" stroke="#b4b4b7" stroke-width="1.1"/><path d="M3.6 11.6 H4.6 M6 11.6 H7 M8.2 11.6 H9.2 M10.4 11.6 H11.4" stroke="#b4b4b7" stroke-width="1"/></svg>
<div class="t" style="left:647.5px;top:794.15px;font-size:14px;line-height:14px;color:#d8d8da;letter-spacing:-0.7px;">PoE+</div>
<div class="t" style="left:875px;top:794.15px;font-size:14px;line-height:14px;color:#d8d8da;">-</div>
<div class="t" style="left:1066px;top:794.15px;font-size:14px;line-height:14px;color:#d8d8da;">-</div>
<div class="t" style="left:1379.60px;top:794.15px;font-size:14px;line-height:14px;color:#8b55d8;letter-spacing:-0.688px;">0 B</div>
<div style="position:absolute;left:83px;top:817px;width:1400px;height:33px;background:#212124;"></div>
<div style="position:absolute;left:83px;top:817px;width:1400px;height:1px;background:#3d3e42;"></div>
<div style="position:absolute;left:87px;top:827px;width:16px;height:16px;background:#0a66ee;border-radius:3px;"></div>
<svg style="position:absolute;left:87px;top:827px;" width="16" height="16" viewBox="0 0 16 16"><path d="M4 8.2 L6.9 11 L12.2 5.3" fill="none" stroke="#0b1630" stroke-width="1.5"/></svg>
<div style="position:absolute;left:127px;top:824px;width:20px;height:20px;background:#808189;border-radius:4px;"></div>
<svg style="position:absolute;left:127px;top:824px;" width="20" height="20" viewBox="0 0 20 20"><path d="M11.9 4 L5.1 10.9 H9.5 L8.2 16 L14.9 9.2 H10.5 Z" fill="#0b0b0c" stroke="#0b0b0c" stroke-width="0.5" stroke-linejoin="round"/><circle cx="16" cy="5.7" r="1.5" fill="#3a3b40"/></svg>
<div class="t" style="left:155px;top:827.15px;font-size:14px;line-height:14px;color:#c8d886;">12</div>
<div style="position:absolute;left:183px;top:832px;width:20px;height:4px;background:linear-gradient(180deg,#f4f4f6 0%,#c8c8cc 40%,#8a8a90 100%);border-radius:1.5px 1.5px 1px 1px;"></div>
<div class="t" style="left:211.2px;top:827.15px;font-size:14px;line-height:14px;color:#c8d886;letter-spacing:-0.1px;">USW-Enterprise-48-PoE</div>
<div class="t" style="left:419.2px;top:827.15px;font-size:14px;line-height:14px;color:#c8d886;">Port 12</div>
<svg style="position:absolute;left:543px;top:828px;" width="15" height="15" viewBox="0 0 15 15"><path d="M2.8 1 H12.2 L13.8 6 V13.6 H1.2 V6 Z" fill="none" stroke="#b4b4b7" stroke-width="1.1"/><path d="M1.2 9.4 H13.8" stroke="#b4b4b7" stroke-width="1.1"/><path d="M3.6 11.6 H4.6 M6 11.6 H7 M8.2 11.6 H9.2 M10.4 11.6 H11.4" stroke="#b4b4b7" stroke-width="1"/></svg>
<div class="t" style="left:647.5px;top:827.15px;font-size:14px;line-height:14px;color:#d8d8da;letter-spacing:-0.7px;">PoE+</div>
<div class="t" style="left:875px;top:827.15px;font-size:14px;line-height:14px;color:#d8d8da;">-</div>
<div class="t" style="left:1066px;top:827.15px;font-size:14px;line-height:14px;color:#d8d8da;">-</div>
<div class="t" style="left:1379.60px;top:827.15px;font-size:14px;line-height:14px;color:#8b55d8;letter-spacing:-0.688px;">0 B</div>
<div style="position:absolute;left:83px;top:850px;width:1400px;height:33px;background:#212124;"></div>
<div style="position:absolute;left:83px;top:850px;width:1400px;height:1px;background:#3d3e42;"></div>
<div style="position:absolute;left:87px;top:860px;width:16px;height:16px;background:#0a66ee;border-radius:3px;"></div>
<svg style="position:absolute;left:87px;top:860px;" width="16" height="16" viewBox="0 0 16 16"><path d="M4 8.2 L6.9 11 L12.2 5.3" fill="none" stroke="#0b1630" stroke-width="1.5"/></svg>
<div style="position:absolute;left:127px;top:857px;width:20px;height:20px;background:#808189;border-radius:4px;"></div>
<svg style="position:absolute;left:127px;top:857px;" width="20" height="20" viewBox="0 0 20 20"><path d="M11.9 4 L5.1 10.9 H9.5 L8.2 16 L14.9 9.2 H10.5 Z" fill="#0b0b0c" stroke="#0b0b0c" stroke-width="0.5" stroke-linejoin="round"/><circle cx="16" cy="5.7" r="1.5" fill="#3a3b40"/></svg>
<div class="t" style="left:155px;top:860.15px;font-size:14px;line-height:14px;color:#0e2558;">13</div>
<div style="position:absolute;left:183px;top:865px;width:20px;height:4px;background:linear-gradient(180deg,#f4f4f6 0%,#c8c8cc 40%,#8a8a90 100%);border-radius:1.5px 1.5px 1px 1px;"></div>
<div class="t" style="left:211.2px;top:860.15px;font-size:14px;line-height:14px;color:#0e2558;letter-spacing:-0.1px;">USW-Enterprise-48-PoE</div>
<div class="t" style="left:419.2px;top:860.15px;font-size:14px;line-height:14px;color:#0e2558;">Port 13</div>
<svg style="position:absolute;left:543px;top:861px;" width="15" height="15" viewBox="0 0 15 15"><path d="M2.8 1 H12.2 L13.8 6 V13.6 H1.2 V6 Z" fill="none" stroke="#b4b4b7" stroke-width="1.1"/><path d="M1.2 9.4 H13.8" stroke="#b4b4b7" stroke-width="1.1"/><path d="M3.6 11.6 H4.6 M6 11.6 H7 M8.2 11.6 H9.2 M10.4 11.6 H11.4" stroke="#b4b4b7" stroke-width="1"/></svg>
<div class="t" style="left:647.5px;top:860.15px;font-size:14px;line-height:14px;color:#d8d8da;letter-spacing:-0.7px;">PoE+</div>
<div class="t" style="left:875px;top:860.15px;font-size:14px;line-height:14px;color:#d8d8da;">-</div>
<div class="t" style="left:1066px;top:860.15px;font-size:14px;line-height:14px;color:#d8d8da;">-</div>
<div class="t" style="left:1379.60px;top:860.15px;font-size:14px;line-height:14px;color:#8b55d8;letter-spacing:-0.688px;">0 B</div>
<div style="position:absolute;left:83px;top:883px;width:1400px;height:31px;background:#212124;"></div>
<div style="position:absolute;left:83px;top:883px;width:1400px;height:1px;background:#3d3e42;"></div>
<div style="position:absolute;left:87px;top:893px;width:16px;height:16px;background:#0a66ee;border-radius:3px;"></div>
<svg style="position:absolute;left:87px;top:893px;" width="16" height="16" viewBox="0 0 16 16"><path d="M4 8.2 L6.9 11 L12.2 5.3" fill="none" stroke="#0b1630" stroke-width="1.5"/></svg>
<div style="position:absolute;left:127px;top:890px;width:20px;height:20px;background:#808189;border-radius:4px;"></div>
<svg style="position:absolute;left:127px;top:890px;" width="20" height="20" viewBox="0 0 20 20"><path d="M11.9 4 L5.1 10.9 H9.5 L8.2 16 L14.9 9.2 H10.5 Z" fill="#0b0b0c" stroke="#0b0b0c" stroke-width="0.5" stroke-linejoin="round"/><circle cx="16" cy="5.7" r="1.5" fill="#3a3b40"/></svg>
<div class="t" style="left:155px;top:893.15px;font-size:14px;line-height:14px;color:#c4862a;">14</div>
<div style="position:absolute;left:183px;top:898px;width:20px;height:4px;background:linear-gradient(180deg,#f4f4f6 0%,#c8c8cc 40%,#8a8a90 100%);border-radius:1.5px 1.5px 1px 1px;"></div>
<div class="t" style="left:211.2px;top:893.15px;font-size:14px;line-height:14px;color:#c4862a;letter-spacing:-0.1px;">USW-Enterprise-48-PoE</div>
<div class="t" style="left:419.2px;top:893.15px;font-size:14px;line-height:14px;color:#c4862a;">Port 14</div>
<svg style="position:absolute;left:543px;top:894px;" width="15" height="15" viewBox="0 0 15 15"><path d="M2.8 1 H12.2 L13.8 6 V13.6 H1.2 V6 Z" fill="none" stroke="#b4b4b7" stroke-width="1.1"/><path d="M1.2 9.4 H13.8" stroke="#b4b4b7" stroke-width="1.1"/><path d="M3.6 11.6 H4.6 M6 11.6 H7 M8.2 11.6 H9.2 M10.4 11.6 H11.4" stroke="#b4b4b7" stroke-width="1"/></svg>
<div class="t" style="left:647.5px;top:893.15px;font-size:14px;line-height:14px;color:#d8d8da;letter-spacing:-0.7px;">PoE+</div>
<div class="t" style="left:875px;top:893.15px;font-size:14px;line-height:14px;color:#d8d8da;">-</div>
<div class="t" style="left:1066px;top:893.15px;font-size:14px;line-height:14px;color:#d8d8da;">-</div>
<div class="t" style="left:1379.60px;top:893.15px;font-size:14px;line-height:14px;color:#8b55d8;letter-spacing:-0.688px;">0 B</div>
<div class="t" style="left:83.3px;top:940.84px;font-size:12px;line-height:12px;color:#c8c8ca;letter-spacing:-0.15px;">1-52 of 52 Records</div>
<div style="position:absolute;left:190px;top:935px;width:53px;height:24px;box-sizing:border-box;border:1px solid #2a2a2e;border-radius:4px;"></div>
<div style="position:absolute;left:216px;top:935px;width:1px;height:24px;background:#2a2a2e;"></div>
<svg style="position:absolute;left:199px;top:942px;" width="8" height="10" viewBox="0 0 8 10"><path d="M5.8 1 L2.2 5 L5.8 9" fill="none" stroke="#c0c0c3" stroke-width="1.2"/></svg>
<svg style="position:absolute;left:225px;top:942px;" width="8" height="10" viewBox="0 0 8 10"><path d="M2.2 1 L5.8 5 L2.2 9" fill="none" stroke="#c0c0c3" stroke-width="1.2"/></svg>
<div class="t" style="left:267.3px;top:940.84px;font-size:12px;line-height:12px;color:#c8c8ca;letter-spacing:-0.35px;">Rows per page:</div>
<div style="position:absolute;left:354px;top:932px;width:70px;height:28px;background:#212124;border-radius:4px;"></div>
<div class="t" style="left:362.5px;top:939.23px;font-size:14.5px;line-height:14.5px;color:#e0e0e2;">100</div>
<svg style="position:absolute;left:398px;top:943px;" width="11" height="6" viewBox="0 0 11 6"><path d="M1 0.8 L5.5 5.2 L10 0.8" fill="none" stroke="#c0c0c3" stroke-width="1.2"/></svg>
<div style="position:absolute;left:91px;top:968px;width:1077px;height:4px;background:#19191b;border-radius:2px;"></div>
<div style="position:absolute;left:286px;top:317.5px;width:530px;height:426px;background:#36373b;border-radius:5px;box-shadow:0 8px 22px rgba(0,0,0,0.65);"></div>
<svg style="position:absolute;left:815px;top:322px;" width="9" height="21" viewBox="0 0 9 21"><path d="M0 0 L8 10.5 L0 21 Z" fill="#36373b"/></svg>
<div class="t" style="left:302.00px;top:330.00px;font-size:13px;line-height:13px;color:#e8e8ea;font-weight:700;letter-spacing:-0.053px;">Packets</div>
<div class="t" style="left:302.00px;top:351.18px;font-size:11.6px;line-height:11.6px;color:#9c9da1;letter-spacing:0.063px;">Dec 30, 2023, 10:00 PM</div>
<div style="position:absolute;left:302px;top:375px;width:498px;height:1.3px;background:#c9c9cc;"></div>
<div style="position:absolute;left:302px;top:390px;width:8px;height:8px;background:#0a3b94;"></div>
<div class="t" style="left:314.4px;top:387.84px;font-size:12px;line-height:12px;color:#d2d2d4;letter-spacing:-0.05px;">Port 1</div>
<div class="t" style="left:-148px;width:600px;text-align:right;top:387.84px;font-size:12px;line-height:12px;color:#c9c9cb;letter-spacing:-0.05px;">0.05 MPkts</div>
<div style="position:absolute;left:476px;top:390px;width:8px;height:8px;background:#5b7fc0;"></div>
<div class="t" style="left:488.4px;top:387.84px;font-size:12px;line-height:12px;color:#d2d2d4;letter-spacing:-0.05px;">Port 2</div>
<div class="t" style="left:26px;width:600px;text-align:right;top:387.84px;font-size:12px;line-height:12px;color:#c9c9cb;letter-spacing:-0.05px;">0.05 MPkts</div>
<div style="position:absolute;left:650px;top:390px;width:8px;height:8px;background:#86cdeb;"></div>
<div class="t" style="left:662.4px;top:387.84px;font-size:12px;line-height:12px;color:#d2d2d4;letter-spacing:-0.05px;">Port 3</div>
<div class="t" style="left:200px;width:600px;text-align:right;top:387.84px;font-size:12px;line-height:12px;color:#c9c9cb;letter-spacing:-0.05px;">0.05 MPkts</div>
<div style="position:absolute;left:302px;top:410px;width:8px;height:8px;background:#8fd3a8;"></div>
<div class="t" style="left:314.4px;top:407.43px;font-size:12px;line-height:12px;color:#d2d2d4;letter-spacing:-0.05px;">Port 4</div>
<div class="t" style="left:-148px;width:600px;text-align:right;top:407.43px;font-size:12px;line-height:12px;color:#c9c9cb;letter-spacing:-0.05px;">0.05 MPkts</div>
<div style="position:absolute;left:476px;top:410px;width:8px;height:8px;background:#5ca0ee;"></div>
<div class="t" style="left:488.4px;top:407.43px;font-size:12px;line-height:12px;color:#d2d2d4;letter-spacing:-0.05px;">Port 5</div>
<div class="t" style="left:26px;width:600px;text-align:right;top:407.43px;font-size:12px;line-height:12px;color:#c9c9cb;letter-spacing:-0.05px;">0.00 MPkts</div>
<div style="position:absolute;left:650px;top:410px;width:8px;height:8px;background:#2fb256;"></div>
<div class="t" style="left:662.4px;top:407.43px;font-size:12px;line-height:12px;color:#d2d2d4;letter-spacing:-0.05px;">Port 6</div>
<div class="t" style="left:200px;width:600px;text-align:right;top:407.43px;font-size:12px;line-height:12px;color:#c9c9cb;letter-spacing:-0.05px;">8.97 MPkts</div>
<div style="position:absolute;left:302px;top:429px;width:8px;height:8px;background:#1d6e35;"></div>
<div class="t" style="left:314.4px;top:427.02px;font-size:12px;line-height:12px;color:#d2d2d4;letter-spacing:-0.05px;">Port 7</div>
<div class="t" style="left:-148px;width:600px;text-align:right;top:427.02px;font-size:12px;line-height:12px;color:#c9c9cb;letter-spacing:-0.05px;">0.05 MPkts</div>
<div style="position:absolute;left:476px;top:429px;width:8px;height:8px;background:#a5c33a;"></div>
<div class="t" style="left:488.4px;top:427.02px;font-size:12px;line-height:12px;color:#d2d2d4;letter-spacing:-0.05px;">Port 8</div>
<div class="t" style="left:26px;width:600px;text-align:right;top:427.02px;font-size:12px;line-height:12px;color:#c9c9cb;letter-spacing:-0.05px;">0.05 MPkts</div>
<div style="position:absolute;left:650px;top:429px;width:8px;height:8px;background:#0b62e6;"></div>
<div class="t" style="left:662.4px;top:427.02px;font-size:12px;line-height:12px;color:#d2d2d4;letter-spacing:-0.05px;">Port 9</div>
<div class="t" style="left:200px;width:600px;text-align:right;top:427.02px;font-size:12px;line-height:12px;color:#c9c9cb;letter-spacing:-0.05px;">0.00 MPkts</div>
<div style="position:absolute;left:302px;top:449px;width:8px;height:8px;background:#bcd25c;"></div>
<div class="t" style="left:314.4px;top:446.61px;font-size:12px;line-height:12px;color:#d2d2d4;letter-spacing:-0.05px;">Port 10</div>
<div class="t" style="left:-148px;width:600px;text-align:right;top:446.61px;font-size:12px;line-height:12px;color:#c9c9cb;letter-spacing:-0.05px;">0.00 MPkts</div>
<div style="position:absolute;left:476px;top:449px;width:8px;height:8px;background:#0c3b86;"></div>
<div class="t" style="left:488.4px;top:446.61px;font-size:12px;line-height:12px;color:#d2d2d4;letter-spacing:-0.05px;">Port 11</div>
<div class="t" style="left:26px;width:600px;text-align:right;top:446.61px;font-size:12px;line-height:12px;color:#c9c9cb;letter-spacing:-0.05px;">0.00 MPkts</div>
<div style="position:absolute;left:650px;top:449px;width:8px;height:8px;background:#c8d886;"></div>
<div class="t" style="left:662.4px;top:446.61px;font-size:12px;line-height:12px;color:#d2d2d4;letter-spacing:-0.05px;">Port 12</div>
<div class="t" style="left:200px;width:600px;text-align:right;top:446.61px;font-size:12px;line-height:12px;color:#c9c9cb;letter-spacing:-0.05px;">0.00 MPkts</div>
<div style="position:absolute;left:302px;top:468px;width:8px;height:8px;background:#0a1f4f;"></div>
<div class="t" style="left:314.4px;top:466.20px;font-size:12px;line-height:12px;color:#d2d2d4;letter-spacing:-0.05px;">Port 13</div>
<div class="t" style="left:-148px;width:600px;text-align:right;top:466.20px;font-size:12px;line-height:12px;color:#c9c9cb;letter-spacing:-0.05px;">0.00 MPkts</div>
<div style="position:absolute;left:476px;top:468px;width:8px;height:8px;background:#b57a22;"></div>
<div class="t" style="left:488.4px;top:466.20px;font-size:12px;line-height:12px;color:#d2d2d4;letter-spacing:-0.05px;">Port 14</div>
<div class="t" style="left:26px;width:600px;text-align:right;top:466.20px;font-size:12px;line-height:12px;color:#c9c9cb;letter-spacing:-0.05px;">0.00 MPkts</div>
<div style="position:absolute;left:650px;top:468px;width:8px;height:8px;background:#123d22;"></div>
<div class="t" style="left:662.4px;top:466.20px;font-size:12px;line-height:12px;color:#d2d2d4;letter-spacing:-0.05px;">Port 15</div>
<div class="t" style="left:200px;width:600px;text-align:right;top:466.20px;font-size:12px;line-height:12px;color:#c9c9cb;letter-spacing:-0.05px;">0.00 MPkts</div>
<div style="position:absolute;left:302px;top:488px;width:8px;height:8px;background:#ecd36b;"></div>
<div class="t" style="left:314.4px;top:485.79px;font-size:12px;line-height:12px;color:#d2d2d4;letter-spacing:-0.05px;">Port 16</div>
<div class="t" style="left:-148px;width:600px;text-align:right;top:485.79px;font-size:12px;line-height:12px;color:#c9c9cb;letter-spacing:-0.05px;">0.00 MPkts</div>
<div style="position:absolute;left:476px;top:488px;width:8px;height:8px;background:#0b4aa6;"></div>
<div class="t" style="left:488.4px;top:485.79px;font-size:12px;line-height:12px;color:#d2d2d4;letter-spacing:-0.05px;">Port 17</div>
<div class="t" style="left:26px;width:600px;text-align:right;top:485.79px;font-size:12px;line-height:12px;color:#c9c9cb;letter-spacing:-0.05px;">0.00 MPkts</div>
<div style="position:absolute;left:650px;top:488px;width:8px;height:8px;background:#0b3385;"></div>
<div class="t" style="left:662.4px;top:485.79px;font-size:12px;line-height:12px;color:#d2d2d4;letter-spacing:-0.05px;">Port 18</div>
<div class="t" style="left:200px;width:600px;text-align:right;top:485.79px;font-size:12px;line-height:12px;color:#c9c9cb;letter-spacing:-0.05px;">0.00 MPkts</div>
<div style="position:absolute;left:302px;top:508px;width:8px;height:8px;background:#a874d8;"></div>
<div class="t" style="left:314.4px;top:505.38px;font-size:12px;line-height:12px;color:#d2d2d4;letter-spacing:-0.05px;">Port 19</div>
<div class="t" style="left:-148px;width:600px;text-align:right;top:505.38px;font-size:12px;line-height:12px;color:#c9c9cb;letter-spacing:-0.05px;">0.00 MPkts</div>
<div style="position:absolute;left:476px;top:508px;width:8px;height:8px;background:#e4c21a;"></div>
<div class="t" style="left:488.4px;top:505.38px;font-size:12px;line-height:12px;color:#d2d2d4;letter-spacing:-0.05px;">Port 20</div>
<div class="t" style="left:26px;width:600px;text-align:right;top:505.38px;font-size:12px;line-height:12px;color:#c9c9cb;letter-spacing:-0.05px;">0.05 MPkts</div>
<div style="position:absolute;left:650px;top:508px;width:8px;height:8px;background:#7a5218;"></div>
<div class="t" style="left:662.4px;top:505.38px;font-size:12px;line-height:12px;color:#d2d2d4;letter-spacing:-0.05px;">Port 21</div>
<div class="t" style="left:200px;width:600px;text-align:right;top:505.38px;font-size:12px;line-height:12px;color:#c9c9cb;letter-spacing:-0.05px;">0.00 MPkts</div>
<div style="position:absolute;left:302px;top:527px;width:8px;height:8px;background:#748a24;"></div>
<div class="t" style="left:314.4px;top:524.97px;font-size:12px;line-height:12px;color:#d2d2d4;letter-spacing:-0.05px;">Port 22</div>
<div class="t" style="left:-148px;width:600px;text-align:right;top:524.97px;font-size:12px;line-height:12px;color:#c9c9cb;letter-spacing:-0.05px;">0.00 MPkts</div>
<div style="position:absolute;left:476px;top:527px;width:8px;height:8px;background:#e6bb78;"></div>
<div class="t" style="left:488.4px;top:524.97px;font-size:12px;line-height:12px;color:#d2d2d4;letter-spacing:-0.05px;">Port 23</div>
<div class="t" style="left:26px;width:600px;text-align:right;top:524.97px;font-size:12px;line-height:12px;color:#c9c9cb;letter-spacing:-0.05px;">0.00 MPkts</div>
<div style="position:absolute;left:650px;top:527px;width:8px;height:8px;background:#0b2660;"></div>
<div class="t" style="left:662.4px;top:524.97px;font-size:12px;line-height:12px;color:#d2d2d4;letter-spacing:-0.05px;">Port 24</div>
<div class="t" style="left:200px;width:600px;text-align:right;top:524.97px;font-size:12px;line-height:12px;color:#c9c9cb;letter-spacing:-0.05px;">0.00 MPkts</div>
<div style="position:absolute;left:302px;top:547px;width:8px;height:8px;background:#e09224;"></div>
<div class="t" style="left:314.4px;top:544.56px;font-size:12px;line-height:12px;color:#d2d2d4;letter-spacing:-0.05px;">Port 25</div>
<div class="t" style="left:-148px;width:600px;text-align:right;top:544.56px;font-size:12px;line-height:12px;color:#c9c9cb;letter-spacing:-0.05px;">0.00 MPkts</div>
<div style="position:absolute;left:476px;top:547px;width:8px;height:8px;background:#8e4ed4;"></div>
<div class="t" style="left:488.4px;top:544.56px;font-size:12px;line-height:12px;color:#d2d2d4;letter-spacing:-0.05px;">Port 26</div>
<div class="t" style="left:26px;width:600px;text-align:right;top:544.56px;font-size:12px;line-height:12px;color:#c9c9cb;letter-spacing:-0.05px;">4.48 MPkts</div>
<div style="position:absolute;left:650px;top:547px;width:8px;height:8px;background:#7a6414;"></div>
<div class="t" style="left:662.4px;top:544.56px;font-size:12px;line-height:12px;color:#d2d2d4;letter-spacing:-0.05px;">Port 27</div>
<div class="t" style="left:200px;width:600px;text-align:right;top:544.56px;font-size:12px;line-height:12px;color:#c9c9cb;letter-spacing:-0.05px;">3.08 MPkts</div>
<div style="position:absolute;left:302px;top:566px;width:8px;height:8px;background:#8fa430;"></div>
<div class="t" style="left:314.4px;top:564.15px;font-size:12px;line-height:12px;color:#d2d2d4;letter-spacing:-0.05px;">Port 28</div>
<div class="t" style="left:-148px;width:600px;text-align:right;top:564.15px;font-size:12px;line-height:12px;color:#c9c9cb;letter-spacing:-0.05px;">0.05 MPkts</div>
<div style="position:absolute;left:476px;top:566px;width:8px;height:8px;background:#1f5570;"></div>
<div class="t" style="left:488.4px;top:564.15px;font-size:12px;line-height:12px;color:#d2d2d4;letter-spacing:-0.05px;">Port 29</div>
<div class="t" style="left:26px;width:600px;text-align:right;top:564.15px;font-size:12px;line-height:12px;color:#c9c9cb;letter-spacing:-0.05px;">0.00 MPkts</div>
<div style="position:absolute;left:650px;top:566px;width:8px;height:8px;background:#ecd242;"></div>
<div class="t" style="left:662.4px;top:564.15px;font-size:12px;line-height:12px;color:#d2d2d4;letter-spacing:-0.05px;">Port 30</div>
<div class="t" style="left:200px;width:600px;text-align:right;top:564.15px;font-size:12px;line-height:12px;color:#c9c9cb;letter-spacing:-0.05px;">0.00 MPkts</div>
<div style="position:absolute;left:302px;top:586px;width:8px;height:8px;background:#e6ac54;"></div>
<div class="t" style="left:314.4px;top:583.74px;font-size:12px;line-height:12px;color:#d2d2d4;letter-spacing:-0.05px;">Port 31</div>
<div class="t" style="left:-148px;width:600px;text-align:right;top:583.74px;font-size:12px;line-height:12px;color:#c9c9cb;letter-spacing:-0.05px;">0.00 MPkts</div>
<div style="position:absolute;left:476px;top:586px;width:8px;height:8px;background:#7a3fa8;"></div>
<div class="t" style="left:488.4px;top:583.74px;font-size:12px;line-height:12px;color:#d2d2d4;letter-spacing:-0.05px;">Port 32</div>
<div class="t" style="left:26px;width:600px;text-align:right;top:583.74px;font-size:12px;line-height:12px;color:#c9c9cb;letter-spacing:-0.05px;">0.00 MPkts</div>
<div style="position:absolute;left:650px;top:586px;width:8px;height:8px;background:#0b2566;"></div>
<div class="t" style="left:662.4px;top:583.74px;font-size:12px;line-height:12px;color:#d2d2d4;letter-spacing:-0.05px;">Port 33</div>
<div class="t" style="left:200px;width:600px;text-align:right;top:583.74px;font-size:12px;line-height:12px;color:#c9c9cb;letter-spacing:-0.05px;">0.00 MPkts</div>
<div style="position:absolute;left:302px;top:605px;width:8px;height:8px;background:#5e2d86;"></div>
<div class="t" style="left:314.4px;top:603.33px;font-size:12px;line-height:12px;color:#d2d2d4;letter-spacing:-0.05px;">Port 34</div>
<div class="t" style="left:-148px;width:600px;text-align:right;top:603.33px;font-size:12px;line-height:12px;color:#c9c9cb;letter-spacing:-0.05px;">0.00 MPkts</div>
<div style="position:absolute;left:476px;top:605px;width:8px;height:8px;background:#2f7896;"></div>
<div class="t" style="left:488.4px;top:603.33px;font-size:12px;line-height:12px;color:#d2d2d4;letter-spacing:-0.05px;">Port 35</div>
<div class="t" style="left:26px;width:600px;text-align:right;top:603.33px;font-size:12px;line-height:12px;color:#c9c9cb;letter-spacing:-0.05px;">0.00 MPkts</div>
<div style="position:absolute;left:650px;top:605px;width:8px;height:8px;background:#8f5e1c;"></div>
<div class="t" style="left:662.4px;top:603.33px;font-size:12px;line-height:12px;color:#d2d2d4;letter-spacing:-0.05px;">Port 36</div>
<div class="t" style="left:200px;width:600px;text-align:right;top:603.33px;font-size:12px;line-height:12px;color:#c9c9cb;letter-spacing:-0.05px;">0.00 MPkts</div>
<div style="position:absolute;left:302px;top:625px;width:8px;height:8px;background:#3eb2e0;"></div>
<div class="t" style="left:314.4px;top:622.92px;font-size:12px;line-height:12px;color:#d2d2d4;letter-spacing:-0.05px;">Port 37</div>
<div class="t" style="left:-148px;width:600px;text-align:right;top:622.92px;font-size:12px;line-height:12px;color:#c9c9cb;letter-spacing:-0.05px;">0.06 MPkts</div>
<div style="position:absolute;left:476px;top:625px;width:8px;height:8px;background:#2f9c4c;"></div>
<div class="t" style="left:488.4px;top:622.92px;font-size:12px;line-height:12px;color:#d2d2d4;letter-spacing:-0.05px;">Port 38</div>
<div class="t" style="left:26px;width:600px;text-align:right;top:622.92px;font-size:12px;line-height:12px;color:#c9c9cb;letter-spacing:-0.05px;">0.00 MPkts</div>
<div style="position:absolute;left:650px;top:625px;width:8px;height:8px;background:#2f8eb6;"></div>
<div class="t" style="left:662.4px;top:622.92px;font-size:12px;line-height:12px;color:#d2d2d4;letter-spacing:-0.05px;">Port 39</div>
<div class="t" style="left:200px;width:600px;text-align:right;top:622.92px;font-size:12px;line-height:12px;color:#c9c9cb;letter-spacing:-0.05px;">0.00 MPkts</div>
<div style="position:absolute;left:302px;top:645px;width:8px;height:8px;background:#0b1a3a;"></div>
<div class="t" style="left:314.4px;top:642.51px;font-size:12px;line-height:12px;color:#d2d2d4;letter-spacing:-0.05px;">Port 40</div>
<div class="t" style="left:-148px;width:600px;text-align:right;top:642.51px;font-size:12px;line-height:12px;color:#c9c9cb;letter-spacing:-0.05px;">0.00 MPkts</div>
<div style="position:absolute;left:476px;top:645px;width:8px;height:8px;background:#0b55c8;"></div>
<div class="t" style="left:488.4px;top:642.51px;font-size:12px;line-height:12px;color:#d2d2d4;letter-spacing:-0.05px;">Port 41</div>
<div class="t" style="left:26px;width:600px;text-align:right;top:642.51px;font-size:12px;line-height:12px;color:#c9c9cb;letter-spacing:-0.05px;">0.00 MPkts</div>
<div style="position:absolute;left:650px;top:645px;width:8px;height:8px;background:#9a7e18;"></div>
<div class="t" style="left:662.4px;top:642.51px;font-size:12px;line-height:12px;color:#d2d2d4;letter-spacing:-0.05px;">Port 42</div>
<div class="t" style="left:200px;width:600px;text-align:right;top:642.51px;font-size:12px;line-height:12px;color:#c9c9cb;letter-spacing:-0.05px;">0.00 MPkts</div>
<div style="position:absolute;left:302px;top:664px;width:8px;height:8px;background:#1b5a2c;"></div>
<div class="t" style="left:314.4px;top:662.10px;font-size:12px;line-height:12px;color:#d2d2d4;letter-spacing:-0.05px;">Port 43</div>
<div class="t" style="left:-148px;width:600px;text-align:right;top:662.10px;font-size:12px;line-height:12px;color:#c9c9cb;letter-spacing:-0.05px;">4.49 MPkts</div>
<div style="position:absolute;left:476px;top:664px;width:8px;height:8px;background:#3c62ad;"></div>
<div class="t" style="left:488.4px;top:662.10px;font-size:12px;line-height:12px;color:#d2d2d4;letter-spacing:-0.05px;">Port 44</div>
<div class="t" style="left:26px;width:600px;text-align:right;top:662.10px;font-size:12px;line-height:12px;color:#c9c9cb;letter-spacing:-0.05px;">0.06 MPkts</div>
<div style="position:absolute;left:650px;top:664px;width:8px;height:8px;background:#76c98e;"></div>
<div class="t" style="left:662.4px;top:662.10px;font-size:12px;line-height:12px;color:#d2d2d4;letter-spacing:-0.05px;">Port 45</div>
<div class="t" style="left:200px;width:600px;text-align:right;top:662.10px;font-size:12px;line-height:12px;color:#c9c9cb;letter-spacing:-0.05px;">4.52 MPkts</div>
<div style="position:absolute;left:302px;top:684px;width:8px;height:8px;background:#5a6a1c;"></div>
<div class="t" style="left:314.4px;top:681.69px;font-size:12px;line-height:12px;color:#d2d2d4;letter-spacing:-0.05px;">Port 46</div>
<div class="t" style="left:-148px;width:600px;text-align:right;top:681.69px;font-size:12px;line-height:12px;color:#c9c9cb;letter-spacing:-0.05px;">0.05 MPkts</div>
<div style="position:absolute;left:476px;top:684px;width:8px;height:8px;background:#4e3510;"></div>
<div class="t" style="left:488.4px;top:681.69px;font-size:12px;line-height:12px;color:#d2d2d4;letter-spacing:-0.05px;">Port 47</div>
<div class="t" style="left:26px;width:600px;text-align:right;top:681.69px;font-size:12px;line-height:12px;color:#c9c9cb;letter-spacing:-0.05px;">5.08 MPkts</div>
<div style="position:absolute;left:650px;top:684px;width:8px;height:8px;background:#3a84ec;"></div>
<div class="t" style="left:662.4px;top:681.69px;font-size:12px;line-height:12px;color:#d2d2d4;letter-spacing:-0.05px;">Port 48</div>
<div class="t" style="left:200px;width:600px;text-align:right;top:681.69px;font-size:12px;line-height:12px;color:#c9c9cb;letter-spacing:-0.05px;">4.43 MPkts</div>
<div style="position:absolute;left:302px;top:703px;width:8px;height:8px;background:#b889e0;"></div>
<div class="t" style="left:314.4px;top:701.28px;font-size:12px;line-height:12px;color:#d2d2d4;letter-spacing:-0.05px;">Port 49</div>
<div class="t" style="left:-148px;width:600px;text-align:right;top:701.28px;font-size:12px;line-height:12px;color:#c9c9cb;letter-spacing:-0.05px;">22.9 MPkts</div>
<div style="position:absolute;left:476px;top:703px;width:8px;height:8px;background:#c4a01c;"></div>
<div class="t" style="left:488.4px;top:701.28px;font-size:12px;line-height:12px;color:#d2d2d4;letter-spacing:-0.05px;">Port 50</div>
<div class="t" style="left:26px;width:600px;text-align:right;top:701.28px;font-size:12px;line-height:12px;color:#c9c9cb;letter-spacing:-0.05px;">1.11 MPkts</div>
<div style="position:absolute;left:650px;top:703px;width:8px;height:8px;background:#60c2ea;"></div>
<div class="t" style="left:662.4px;top:701.28px;font-size:12px;line-height:12px;color:#d2d2d4;letter-spacing:-0.05px;">Port 51</div>
<div class="t" style="left:200px;width:600px;text-align:right;top:701.28px;font-size:12px;line-height:12px;color:#c9c9cb;letter-spacing:-0.05px;">2.04 MPkts</div>
<div style="position:absolute;left:302px;top:723px;width:8px;height:8px;background:#163f52;"></div>
<div class="t" style="left:314.4px;top:720.87px;font-size:12px;line-height:12px;color:#d2d2d4;letter-spacing:-0.05px;">Port 52</div>
<div class="t" style="left:-148px;width:600px;text-align:right;top:720.87px;font-size:12px;line-height:12px;color:#c9c9cb;letter-spacing:-0.05px;">0.05 MPkts</div>
<svg style="position:absolute;left:1526px;top:987px;" width="10" height="10" viewBox="0 0 10 10"><path d="M10 2.5 V10 H2.5 A7.5 7.5 0 0 0 10 2.5 Z" fill="#3c3c3c"/></svg>
</body></html>
